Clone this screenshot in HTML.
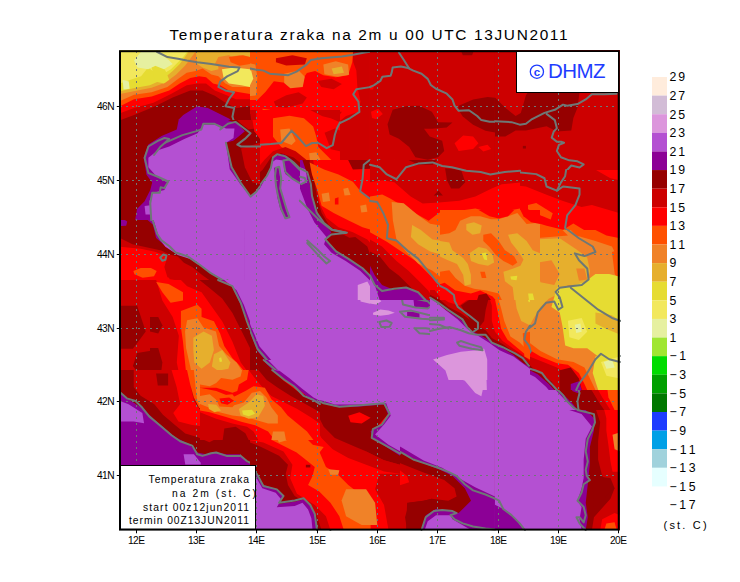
<!DOCTYPE html>
<html><head><meta charset="utf-8"><style>
html,body{margin:0;padding:0;background:#fff;}
body{width:740px;height:582px;position:relative;overflow:hidden;}
svg{position:absolute;left:0;top:0;font-family:"Liberation Sans",sans-serif;}
</style></head><body>
<svg width="740" height="582" viewBox="0 0 740 582">
<defs><clipPath id="ct00"><rect x="120.0" y="50.0" width="125.0" height="120.0"/></clipPath><mask id="mt00" maskUnits="userSpaceOnUse" x="0" y="0" width="740" height="582"><rect x="117.0" y="47.0" width="131.0" height="126.0" fill="#fff"/><rect x="245.0" y="50.0" width="125.0" height="120.0" fill="#000"/><rect x="370.0" y="50.0" width="125.0" height="120.0" fill="#000"/><rect x="495.0" y="50.0" width="125.0" height="120.0" fill="#000"/><rect x="120.0" y="170.0" width="125.0" height="120.0" fill="#000"/><rect x="245.0" y="170.0" width="125.0" height="120.0" fill="#000"/><rect x="370.0" y="170.0" width="125.0" height="120.0" fill="#000"/><rect x="495.0" y="170.0" width="125.0" height="120.0" fill="#000"/><rect x="120.0" y="290.0" width="125.0" height="120.0" fill="#000"/><rect x="245.0" y="290.0" width="125.0" height="120.0" fill="#000"/><rect x="370.0" y="290.0" width="125.0" height="120.0" fill="#000"/><rect x="495.0" y="290.0" width="125.0" height="120.0" fill="#000"/><rect x="120.0" y="410.0" width="125.0" height="120.0" fill="#000"/><rect x="245.0" y="410.0" width="125.0" height="120.0" fill="#000"/><rect x="370.0" y="410.0" width="125.0" height="120.0" fill="#000"/><rect x="495.0" y="410.0" width="125.0" height="120.0" fill="#000"/><rect x="120.0" y="280.0" width="250.0" height="250.0" fill="#000"/><rect x="230.0" y="360.0" width="140.0" height="140.0" fill="#000"/><rect x="150.0" y="280.0" width="100.0" height="120.0" fill="#000"/><rect x="240.0" y="110.0" width="100.0" height="120.0" fill="#000"/><rect x="120.0" y="370.0" width="120.0" height="100.0" fill="#000"/><rect x="120.0" y="50.0" width="130.0" height="90.0" fill="#000"/><rect x="300.0" y="160.0" width="120.0" height="140.0" fill="#000"/><rect x="370.0" y="160.0" width="150.0" height="140.0" fill="#000"/><rect x="480.0" y="230.0" width="140.0" height="160.0" fill="#000"/><rect x="250.0" y="400.0" width="150.0" height="130.0" fill="#000"/><rect x="120.0" y="120.0" width="140.0" height="100.0" fill="#000"/><rect x="430.0" y="290.0" width="100.0" height="90.0" fill="#000"/><rect x="440.0" y="210.0" width="100.0" height="90.0" fill="#000"/><rect x="200.0" y="370.0" width="120.0" height="70.0" fill="#000"/></mask><clipPath id="ct01"><rect x="245.0" y="50.0" width="125.0" height="120.0"/></clipPath><mask id="mt01" maskUnits="userSpaceOnUse" x="0" y="0" width="740" height="582"><rect x="242.0" y="47.0" width="131.0" height="126.0" fill="#fff"/><rect x="370.0" y="50.0" width="125.0" height="120.0" fill="#000"/><rect x="495.0" y="50.0" width="125.0" height="120.0" fill="#000"/><rect x="120.0" y="170.0" width="125.0" height="120.0" fill="#000"/><rect x="245.0" y="170.0" width="125.0" height="120.0" fill="#000"/><rect x="370.0" y="170.0" width="125.0" height="120.0" fill="#000"/><rect x="495.0" y="170.0" width="125.0" height="120.0" fill="#000"/><rect x="120.0" y="290.0" width="125.0" height="120.0" fill="#000"/><rect x="245.0" y="290.0" width="125.0" height="120.0" fill="#000"/><rect x="370.0" y="290.0" width="125.0" height="120.0" fill="#000"/><rect x="495.0" y="290.0" width="125.0" height="120.0" fill="#000"/><rect x="120.0" y="410.0" width="125.0" height="120.0" fill="#000"/><rect x="245.0" y="410.0" width="125.0" height="120.0" fill="#000"/><rect x="370.0" y="410.0" width="125.0" height="120.0" fill="#000"/><rect x="495.0" y="410.0" width="125.0" height="120.0" fill="#000"/><rect x="120.0" y="280.0" width="250.0" height="250.0" fill="#000"/><rect x="230.0" y="360.0" width="140.0" height="140.0" fill="#000"/><rect x="150.0" y="280.0" width="100.0" height="120.0" fill="#000"/><rect x="240.0" y="110.0" width="100.0" height="120.0" fill="#000"/><rect x="120.0" y="370.0" width="120.0" height="100.0" fill="#000"/><rect x="120.0" y="50.0" width="130.0" height="90.0" fill="#000"/><rect x="300.0" y="160.0" width="120.0" height="140.0" fill="#000"/><rect x="370.0" y="160.0" width="150.0" height="140.0" fill="#000"/><rect x="480.0" y="230.0" width="140.0" height="160.0" fill="#000"/><rect x="250.0" y="400.0" width="150.0" height="130.0" fill="#000"/><rect x="120.0" y="120.0" width="140.0" height="100.0" fill="#000"/><rect x="430.0" y="290.0" width="100.0" height="90.0" fill="#000"/><rect x="440.0" y="210.0" width="100.0" height="90.0" fill="#000"/><rect x="200.0" y="370.0" width="120.0" height="70.0" fill="#000"/></mask><clipPath id="ct02"><rect x="370.0" y="50.0" width="125.0" height="120.0"/></clipPath><mask id="mt02" maskUnits="userSpaceOnUse" x="0" y="0" width="740" height="582"><rect x="367.0" y="47.0" width="131.0" height="126.0" fill="#fff"/><rect x="495.0" y="50.0" width="125.0" height="120.0" fill="#000"/><rect x="120.0" y="170.0" width="125.0" height="120.0" fill="#000"/><rect x="245.0" y="170.0" width="125.0" height="120.0" fill="#000"/><rect x="370.0" y="170.0" width="125.0" height="120.0" fill="#000"/><rect x="495.0" y="170.0" width="125.0" height="120.0" fill="#000"/><rect x="120.0" y="290.0" width="125.0" height="120.0" fill="#000"/><rect x="245.0" y="290.0" width="125.0" height="120.0" fill="#000"/><rect x="370.0" y="290.0" width="125.0" height="120.0" fill="#000"/><rect x="495.0" y="290.0" width="125.0" height="120.0" fill="#000"/><rect x="120.0" y="410.0" width="125.0" height="120.0" fill="#000"/><rect x="245.0" y="410.0" width="125.0" height="120.0" fill="#000"/><rect x="370.0" y="410.0" width="125.0" height="120.0" fill="#000"/><rect x="495.0" y="410.0" width="125.0" height="120.0" fill="#000"/><rect x="120.0" y="280.0" width="250.0" height="250.0" fill="#000"/><rect x="230.0" y="360.0" width="140.0" height="140.0" fill="#000"/><rect x="150.0" y="280.0" width="100.0" height="120.0" fill="#000"/><rect x="240.0" y="110.0" width="100.0" height="120.0" fill="#000"/><rect x="120.0" y="370.0" width="120.0" height="100.0" fill="#000"/><rect x="120.0" y="50.0" width="130.0" height="90.0" fill="#000"/><rect x="300.0" y="160.0" width="120.0" height="140.0" fill="#000"/><rect x="370.0" y="160.0" width="150.0" height="140.0" fill="#000"/><rect x="480.0" y="230.0" width="140.0" height="160.0" fill="#000"/><rect x="250.0" y="400.0" width="150.0" height="130.0" fill="#000"/><rect x="120.0" y="120.0" width="140.0" height="100.0" fill="#000"/><rect x="430.0" y="290.0" width="100.0" height="90.0" fill="#000"/><rect x="440.0" y="210.0" width="100.0" height="90.0" fill="#000"/><rect x="200.0" y="370.0" width="120.0" height="70.0" fill="#000"/></mask><clipPath id="ct03"><rect x="495.0" y="50.0" width="125.0" height="120.0"/></clipPath><mask id="mt03" maskUnits="userSpaceOnUse" x="0" y="0" width="740" height="582"><rect x="492.0" y="47.0" width="131.0" height="126.0" fill="#fff"/><rect x="120.0" y="170.0" width="125.0" height="120.0" fill="#000"/><rect x="245.0" y="170.0" width="125.0" height="120.0" fill="#000"/><rect x="370.0" y="170.0" width="125.0" height="120.0" fill="#000"/><rect x="495.0" y="170.0" width="125.0" height="120.0" fill="#000"/><rect x="120.0" y="290.0" width="125.0" height="120.0" fill="#000"/><rect x="245.0" y="290.0" width="125.0" height="120.0" fill="#000"/><rect x="370.0" y="290.0" width="125.0" height="120.0" fill="#000"/><rect x="495.0" y="290.0" width="125.0" height="120.0" fill="#000"/><rect x="120.0" y="410.0" width="125.0" height="120.0" fill="#000"/><rect x="245.0" y="410.0" width="125.0" height="120.0" fill="#000"/><rect x="370.0" y="410.0" width="125.0" height="120.0" fill="#000"/><rect x="495.0" y="410.0" width="125.0" height="120.0" fill="#000"/><rect x="120.0" y="280.0" width="250.0" height="250.0" fill="#000"/><rect x="230.0" y="360.0" width="140.0" height="140.0" fill="#000"/><rect x="150.0" y="280.0" width="100.0" height="120.0" fill="#000"/><rect x="240.0" y="110.0" width="100.0" height="120.0" fill="#000"/><rect x="120.0" y="370.0" width="120.0" height="100.0" fill="#000"/><rect x="120.0" y="50.0" width="130.0" height="90.0" fill="#000"/><rect x="300.0" y="160.0" width="120.0" height="140.0" fill="#000"/><rect x="370.0" y="160.0" width="150.0" height="140.0" fill="#000"/><rect x="480.0" y="230.0" width="140.0" height="160.0" fill="#000"/><rect x="250.0" y="400.0" width="150.0" height="130.0" fill="#000"/><rect x="120.0" y="120.0" width="140.0" height="100.0" fill="#000"/><rect x="430.0" y="290.0" width="100.0" height="90.0" fill="#000"/><rect x="440.0" y="210.0" width="100.0" height="90.0" fill="#000"/><rect x="200.0" y="370.0" width="120.0" height="70.0" fill="#000"/></mask><clipPath id="ct10"><rect x="120.0" y="170.0" width="125.0" height="120.0"/></clipPath><mask id="mt10" maskUnits="userSpaceOnUse" x="0" y="0" width="740" height="582"><rect x="117.0" y="167.0" width="131.0" height="126.0" fill="#fff"/><rect x="245.0" y="170.0" width="125.0" height="120.0" fill="#000"/><rect x="370.0" y="170.0" width="125.0" height="120.0" fill="#000"/><rect x="495.0" y="170.0" width="125.0" height="120.0" fill="#000"/><rect x="120.0" y="290.0" width="125.0" height="120.0" fill="#000"/><rect x="245.0" y="290.0" width="125.0" height="120.0" fill="#000"/><rect x="370.0" y="290.0" width="125.0" height="120.0" fill="#000"/><rect x="495.0" y="290.0" width="125.0" height="120.0" fill="#000"/><rect x="120.0" y="410.0" width="125.0" height="120.0" fill="#000"/><rect x="245.0" y="410.0" width="125.0" height="120.0" fill="#000"/><rect x="370.0" y="410.0" width="125.0" height="120.0" fill="#000"/><rect x="495.0" y="410.0" width="125.0" height="120.0" fill="#000"/><rect x="120.0" y="280.0" width="250.0" height="250.0" fill="#000"/><rect x="230.0" y="360.0" width="140.0" height="140.0" fill="#000"/><rect x="150.0" y="280.0" width="100.0" height="120.0" fill="#000"/><rect x="240.0" y="110.0" width="100.0" height="120.0" fill="#000"/><rect x="120.0" y="370.0" width="120.0" height="100.0" fill="#000"/><rect x="120.0" y="50.0" width="130.0" height="90.0" fill="#000"/><rect x="300.0" y="160.0" width="120.0" height="140.0" fill="#000"/><rect x="370.0" y="160.0" width="150.0" height="140.0" fill="#000"/><rect x="480.0" y="230.0" width="140.0" height="160.0" fill="#000"/><rect x="250.0" y="400.0" width="150.0" height="130.0" fill="#000"/><rect x="120.0" y="120.0" width="140.0" height="100.0" fill="#000"/><rect x="430.0" y="290.0" width="100.0" height="90.0" fill="#000"/><rect x="440.0" y="210.0" width="100.0" height="90.0" fill="#000"/><rect x="200.0" y="370.0" width="120.0" height="70.0" fill="#000"/></mask><clipPath id="ct11"><rect x="245.0" y="170.0" width="125.0" height="120.0"/></clipPath><mask id="mt11" maskUnits="userSpaceOnUse" x="0" y="0" width="740" height="582"><rect x="242.0" y="167.0" width="131.0" height="126.0" fill="#fff"/><rect x="370.0" y="170.0" width="125.0" height="120.0" fill="#000"/><rect x="495.0" y="170.0" width="125.0" height="120.0" fill="#000"/><rect x="120.0" y="290.0" width="125.0" height="120.0" fill="#000"/><rect x="245.0" y="290.0" width="125.0" height="120.0" fill="#000"/><rect x="370.0" y="290.0" width="125.0" height="120.0" fill="#000"/><rect x="495.0" y="290.0" width="125.0" height="120.0" fill="#000"/><rect x="120.0" y="410.0" width="125.0" height="120.0" fill="#000"/><rect x="245.0" y="410.0" width="125.0" height="120.0" fill="#000"/><rect x="370.0" y="410.0" width="125.0" height="120.0" fill="#000"/><rect x="495.0" y="410.0" width="125.0" height="120.0" fill="#000"/><rect x="120.0" y="280.0" width="250.0" height="250.0" fill="#000"/><rect x="230.0" y="360.0" width="140.0" height="140.0" fill="#000"/><rect x="150.0" y="280.0" width="100.0" height="120.0" fill="#000"/><rect x="240.0" y="110.0" width="100.0" height="120.0" fill="#000"/><rect x="120.0" y="370.0" width="120.0" height="100.0" fill="#000"/><rect x="120.0" y="50.0" width="130.0" height="90.0" fill="#000"/><rect x="300.0" y="160.0" width="120.0" height="140.0" fill="#000"/><rect x="370.0" y="160.0" width="150.0" height="140.0" fill="#000"/><rect x="480.0" y="230.0" width="140.0" height="160.0" fill="#000"/><rect x="250.0" y="400.0" width="150.0" height="130.0" fill="#000"/><rect x="120.0" y="120.0" width="140.0" height="100.0" fill="#000"/><rect x="430.0" y="290.0" width="100.0" height="90.0" fill="#000"/><rect x="440.0" y="210.0" width="100.0" height="90.0" fill="#000"/><rect x="200.0" y="370.0" width="120.0" height="70.0" fill="#000"/></mask><clipPath id="ct12"><rect x="370.0" y="170.0" width="125.0" height="120.0"/></clipPath><mask id="mt12" maskUnits="userSpaceOnUse" x="0" y="0" width="740" height="582"><rect x="367.0" y="167.0" width="131.0" height="126.0" fill="#fff"/><rect x="495.0" y="170.0" width="125.0" height="120.0" fill="#000"/><rect x="120.0" y="290.0" width="125.0" height="120.0" fill="#000"/><rect x="245.0" y="290.0" width="125.0" height="120.0" fill="#000"/><rect x="370.0" y="290.0" width="125.0" height="120.0" fill="#000"/><rect x="495.0" y="290.0" width="125.0" height="120.0" fill="#000"/><rect x="120.0" y="410.0" width="125.0" height="120.0" fill="#000"/><rect x="245.0" y="410.0" width="125.0" height="120.0" fill="#000"/><rect x="370.0" y="410.0" width="125.0" height="120.0" fill="#000"/><rect x="495.0" y="410.0" width="125.0" height="120.0" fill="#000"/><rect x="120.0" y="280.0" width="250.0" height="250.0" fill="#000"/><rect x="230.0" y="360.0" width="140.0" height="140.0" fill="#000"/><rect x="150.0" y="280.0" width="100.0" height="120.0" fill="#000"/><rect x="240.0" y="110.0" width="100.0" height="120.0" fill="#000"/><rect x="120.0" y="370.0" width="120.0" height="100.0" fill="#000"/><rect x="120.0" y="50.0" width="130.0" height="90.0" fill="#000"/><rect x="300.0" y="160.0" width="120.0" height="140.0" fill="#000"/><rect x="370.0" y="160.0" width="150.0" height="140.0" fill="#000"/><rect x="480.0" y="230.0" width="140.0" height="160.0" fill="#000"/><rect x="250.0" y="400.0" width="150.0" height="130.0" fill="#000"/><rect x="120.0" y="120.0" width="140.0" height="100.0" fill="#000"/><rect x="430.0" y="290.0" width="100.0" height="90.0" fill="#000"/><rect x="440.0" y="210.0" width="100.0" height="90.0" fill="#000"/><rect x="200.0" y="370.0" width="120.0" height="70.0" fill="#000"/></mask><clipPath id="ct13"><rect x="495.0" y="170.0" width="125.0" height="120.0"/></clipPath><mask id="mt13" maskUnits="userSpaceOnUse" x="0" y="0" width="740" height="582"><rect x="492.0" y="167.0" width="131.0" height="126.0" fill="#fff"/><rect x="120.0" y="290.0" width="125.0" height="120.0" fill="#000"/><rect x="245.0" y="290.0" width="125.0" height="120.0" fill="#000"/><rect x="370.0" y="290.0" width="125.0" height="120.0" fill="#000"/><rect x="495.0" y="290.0" width="125.0" height="120.0" fill="#000"/><rect x="120.0" y="410.0" width="125.0" height="120.0" fill="#000"/><rect x="245.0" y="410.0" width="125.0" height="120.0" fill="#000"/><rect x="370.0" y="410.0" width="125.0" height="120.0" fill="#000"/><rect x="495.0" y="410.0" width="125.0" height="120.0" fill="#000"/><rect x="120.0" y="280.0" width="250.0" height="250.0" fill="#000"/><rect x="230.0" y="360.0" width="140.0" height="140.0" fill="#000"/><rect x="150.0" y="280.0" width="100.0" height="120.0" fill="#000"/><rect x="240.0" y="110.0" width="100.0" height="120.0" fill="#000"/><rect x="120.0" y="370.0" width="120.0" height="100.0" fill="#000"/><rect x="120.0" y="50.0" width="130.0" height="90.0" fill="#000"/><rect x="300.0" y="160.0" width="120.0" height="140.0" fill="#000"/><rect x="370.0" y="160.0" width="150.0" height="140.0" fill="#000"/><rect x="480.0" y="230.0" width="140.0" height="160.0" fill="#000"/><rect x="250.0" y="400.0" width="150.0" height="130.0" fill="#000"/><rect x="120.0" y="120.0" width="140.0" height="100.0" fill="#000"/><rect x="430.0" y="290.0" width="100.0" height="90.0" fill="#000"/><rect x="440.0" y="210.0" width="100.0" height="90.0" fill="#000"/><rect x="200.0" y="370.0" width="120.0" height="70.0" fill="#000"/></mask><clipPath id="ct20"><rect x="120.0" y="290.0" width="125.0" height="120.0"/></clipPath><mask id="mt20" maskUnits="userSpaceOnUse" x="0" y="0" width="740" height="582"><rect x="117.0" y="287.0" width="131.0" height="126.0" fill="#fff"/><rect x="245.0" y="290.0" width="125.0" height="120.0" fill="#000"/><rect x="370.0" y="290.0" width="125.0" height="120.0" fill="#000"/><rect x="495.0" y="290.0" width="125.0" height="120.0" fill="#000"/><rect x="120.0" y="410.0" width="125.0" height="120.0" fill="#000"/><rect x="245.0" y="410.0" width="125.0" height="120.0" fill="#000"/><rect x="370.0" y="410.0" width="125.0" height="120.0" fill="#000"/><rect x="495.0" y="410.0" width="125.0" height="120.0" fill="#000"/><rect x="120.0" y="280.0" width="250.0" height="250.0" fill="#000"/><rect x="230.0" y="360.0" width="140.0" height="140.0" fill="#000"/><rect x="150.0" y="280.0" width="100.0" height="120.0" fill="#000"/><rect x="240.0" y="110.0" width="100.0" height="120.0" fill="#000"/><rect x="120.0" y="370.0" width="120.0" height="100.0" fill="#000"/><rect x="120.0" y="50.0" width="130.0" height="90.0" fill="#000"/><rect x="300.0" y="160.0" width="120.0" height="140.0" fill="#000"/><rect x="370.0" y="160.0" width="150.0" height="140.0" fill="#000"/><rect x="480.0" y="230.0" width="140.0" height="160.0" fill="#000"/><rect x="250.0" y="400.0" width="150.0" height="130.0" fill="#000"/><rect x="120.0" y="120.0" width="140.0" height="100.0" fill="#000"/><rect x="430.0" y="290.0" width="100.0" height="90.0" fill="#000"/><rect x="440.0" y="210.0" width="100.0" height="90.0" fill="#000"/><rect x="200.0" y="370.0" width="120.0" height="70.0" fill="#000"/></mask><clipPath id="ct21"><rect x="245.0" y="290.0" width="125.0" height="120.0"/></clipPath><mask id="mt21" maskUnits="userSpaceOnUse" x="0" y="0" width="740" height="582"><rect x="242.0" y="287.0" width="131.0" height="126.0" fill="#fff"/><rect x="370.0" y="290.0" width="125.0" height="120.0" fill="#000"/><rect x="495.0" y="290.0" width="125.0" height="120.0" fill="#000"/><rect x="120.0" y="410.0" width="125.0" height="120.0" fill="#000"/><rect x="245.0" y="410.0" width="125.0" height="120.0" fill="#000"/><rect x="370.0" y="410.0" width="125.0" height="120.0" fill="#000"/><rect x="495.0" y="410.0" width="125.0" height="120.0" fill="#000"/><rect x="120.0" y="280.0" width="250.0" height="250.0" fill="#000"/><rect x="230.0" y="360.0" width="140.0" height="140.0" fill="#000"/><rect x="150.0" y="280.0" width="100.0" height="120.0" fill="#000"/><rect x="240.0" y="110.0" width="100.0" height="120.0" fill="#000"/><rect x="120.0" y="370.0" width="120.0" height="100.0" fill="#000"/><rect x="120.0" y="50.0" width="130.0" height="90.0" fill="#000"/><rect x="300.0" y="160.0" width="120.0" height="140.0" fill="#000"/><rect x="370.0" y="160.0" width="150.0" height="140.0" fill="#000"/><rect x="480.0" y="230.0" width="140.0" height="160.0" fill="#000"/><rect x="250.0" y="400.0" width="150.0" height="130.0" fill="#000"/><rect x="120.0" y="120.0" width="140.0" height="100.0" fill="#000"/><rect x="430.0" y="290.0" width="100.0" height="90.0" fill="#000"/><rect x="440.0" y="210.0" width="100.0" height="90.0" fill="#000"/><rect x="200.0" y="370.0" width="120.0" height="70.0" fill="#000"/></mask><clipPath id="ct22"><rect x="370.0" y="290.0" width="125.0" height="120.0"/></clipPath><mask id="mt22" maskUnits="userSpaceOnUse" x="0" y="0" width="740" height="582"><rect x="367.0" y="287.0" width="131.0" height="126.0" fill="#fff"/><rect x="495.0" y="290.0" width="125.0" height="120.0" fill="#000"/><rect x="120.0" y="410.0" width="125.0" height="120.0" fill="#000"/><rect x="245.0" y="410.0" width="125.0" height="120.0" fill="#000"/><rect x="370.0" y="410.0" width="125.0" height="120.0" fill="#000"/><rect x="495.0" y="410.0" width="125.0" height="120.0" fill="#000"/><rect x="120.0" y="280.0" width="250.0" height="250.0" fill="#000"/><rect x="230.0" y="360.0" width="140.0" height="140.0" fill="#000"/><rect x="150.0" y="280.0" width="100.0" height="120.0" fill="#000"/><rect x="240.0" y="110.0" width="100.0" height="120.0" fill="#000"/><rect x="120.0" y="370.0" width="120.0" height="100.0" fill="#000"/><rect x="120.0" y="50.0" width="130.0" height="90.0" fill="#000"/><rect x="300.0" y="160.0" width="120.0" height="140.0" fill="#000"/><rect x="370.0" y="160.0" width="150.0" height="140.0" fill="#000"/><rect x="480.0" y="230.0" width="140.0" height="160.0" fill="#000"/><rect x="250.0" y="400.0" width="150.0" height="130.0" fill="#000"/><rect x="120.0" y="120.0" width="140.0" height="100.0" fill="#000"/><rect x="430.0" y="290.0" width="100.0" height="90.0" fill="#000"/><rect x="440.0" y="210.0" width="100.0" height="90.0" fill="#000"/><rect x="200.0" y="370.0" width="120.0" height="70.0" fill="#000"/></mask><clipPath id="ct23"><rect x="495.0" y="290.0" width="125.0" height="120.0"/></clipPath><mask id="mt23" maskUnits="userSpaceOnUse" x="0" y="0" width="740" height="582"><rect x="492.0" y="287.0" width="131.0" height="126.0" fill="#fff"/><rect x="120.0" y="410.0" width="125.0" height="120.0" fill="#000"/><rect x="245.0" y="410.0" width="125.0" height="120.0" fill="#000"/><rect x="370.0" y="410.0" width="125.0" height="120.0" fill="#000"/><rect x="495.0" y="410.0" width="125.0" height="120.0" fill="#000"/><rect x="120.0" y="280.0" width="250.0" height="250.0" fill="#000"/><rect x="230.0" y="360.0" width="140.0" height="140.0" fill="#000"/><rect x="150.0" y="280.0" width="100.0" height="120.0" fill="#000"/><rect x="240.0" y="110.0" width="100.0" height="120.0" fill="#000"/><rect x="120.0" y="370.0" width="120.0" height="100.0" fill="#000"/><rect x="120.0" y="50.0" width="130.0" height="90.0" fill="#000"/><rect x="300.0" y="160.0" width="120.0" height="140.0" fill="#000"/><rect x="370.0" y="160.0" width="150.0" height="140.0" fill="#000"/><rect x="480.0" y="230.0" width="140.0" height="160.0" fill="#000"/><rect x="250.0" y="400.0" width="150.0" height="130.0" fill="#000"/><rect x="120.0" y="120.0" width="140.0" height="100.0" fill="#000"/><rect x="430.0" y="290.0" width="100.0" height="90.0" fill="#000"/><rect x="440.0" y="210.0" width="100.0" height="90.0" fill="#000"/><rect x="200.0" y="370.0" width="120.0" height="70.0" fill="#000"/></mask><clipPath id="ct30"><rect x="120.0" y="410.0" width="125.0" height="120.0"/></clipPath><mask id="mt30" maskUnits="userSpaceOnUse" x="0" y="0" width="740" height="582"><rect x="117.0" y="407.0" width="131.0" height="126.0" fill="#fff"/><rect x="245.0" y="410.0" width="125.0" height="120.0" fill="#000"/><rect x="370.0" y="410.0" width="125.0" height="120.0" fill="#000"/><rect x="495.0" y="410.0" width="125.0" height="120.0" fill="#000"/><rect x="120.0" y="280.0" width="250.0" height="250.0" fill="#000"/><rect x="230.0" y="360.0" width="140.0" height="140.0" fill="#000"/><rect x="150.0" y="280.0" width="100.0" height="120.0" fill="#000"/><rect x="240.0" y="110.0" width="100.0" height="120.0" fill="#000"/><rect x="120.0" y="370.0" width="120.0" height="100.0" fill="#000"/><rect x="120.0" y="50.0" width="130.0" height="90.0" fill="#000"/><rect x="300.0" y="160.0" width="120.0" height="140.0" fill="#000"/><rect x="370.0" y="160.0" width="150.0" height="140.0" fill="#000"/><rect x="480.0" y="230.0" width="140.0" height="160.0" fill="#000"/><rect x="250.0" y="400.0" width="150.0" height="130.0" fill="#000"/><rect x="120.0" y="120.0" width="140.0" height="100.0" fill="#000"/><rect x="430.0" y="290.0" width="100.0" height="90.0" fill="#000"/><rect x="440.0" y="210.0" width="100.0" height="90.0" fill="#000"/><rect x="200.0" y="370.0" width="120.0" height="70.0" fill="#000"/></mask><clipPath id="ct31"><rect x="245.0" y="410.0" width="125.0" height="120.0"/></clipPath><mask id="mt31" maskUnits="userSpaceOnUse" x="0" y="0" width="740" height="582"><rect x="242.0" y="407.0" width="131.0" height="126.0" fill="#fff"/><rect x="370.0" y="410.0" width="125.0" height="120.0" fill="#000"/><rect x="495.0" y="410.0" width="125.0" height="120.0" fill="#000"/><rect x="120.0" y="280.0" width="250.0" height="250.0" fill="#000"/><rect x="230.0" y="360.0" width="140.0" height="140.0" fill="#000"/><rect x="150.0" y="280.0" width="100.0" height="120.0" fill="#000"/><rect x="240.0" y="110.0" width="100.0" height="120.0" fill="#000"/><rect x="120.0" y="370.0" width="120.0" height="100.0" fill="#000"/><rect x="120.0" y="50.0" width="130.0" height="90.0" fill="#000"/><rect x="300.0" y="160.0" width="120.0" height="140.0" fill="#000"/><rect x="370.0" y="160.0" width="150.0" height="140.0" fill="#000"/><rect x="480.0" y="230.0" width="140.0" height="160.0" fill="#000"/><rect x="250.0" y="400.0" width="150.0" height="130.0" fill="#000"/><rect x="120.0" y="120.0" width="140.0" height="100.0" fill="#000"/><rect x="430.0" y="290.0" width="100.0" height="90.0" fill="#000"/><rect x="440.0" y="210.0" width="100.0" height="90.0" fill="#000"/><rect x="200.0" y="370.0" width="120.0" height="70.0" fill="#000"/></mask><clipPath id="ct32"><rect x="370.0" y="410.0" width="125.0" height="120.0"/></clipPath><mask id="mt32" maskUnits="userSpaceOnUse" x="0" y="0" width="740" height="582"><rect x="367.0" y="407.0" width="131.0" height="126.0" fill="#fff"/><rect x="495.0" y="410.0" width="125.0" height="120.0" fill="#000"/><rect x="120.0" y="280.0" width="250.0" height="250.0" fill="#000"/><rect x="230.0" y="360.0" width="140.0" height="140.0" fill="#000"/><rect x="150.0" y="280.0" width="100.0" height="120.0" fill="#000"/><rect x="240.0" y="110.0" width="100.0" height="120.0" fill="#000"/><rect x="120.0" y="370.0" width="120.0" height="100.0" fill="#000"/><rect x="120.0" y="50.0" width="130.0" height="90.0" fill="#000"/><rect x="300.0" y="160.0" width="120.0" height="140.0" fill="#000"/><rect x="370.0" y="160.0" width="150.0" height="140.0" fill="#000"/><rect x="480.0" y="230.0" width="140.0" height="160.0" fill="#000"/><rect x="250.0" y="400.0" width="150.0" height="130.0" fill="#000"/><rect x="120.0" y="120.0" width="140.0" height="100.0" fill="#000"/><rect x="430.0" y="290.0" width="100.0" height="90.0" fill="#000"/><rect x="440.0" y="210.0" width="100.0" height="90.0" fill="#000"/><rect x="200.0" y="370.0" width="120.0" height="70.0" fill="#000"/></mask><clipPath id="ct33"><rect x="495.0" y="410.0" width="125.0" height="120.0"/></clipPath><mask id="mt33" maskUnits="userSpaceOnUse" x="0" y="0" width="740" height="582"><rect x="492.0" y="407.0" width="131.0" height="126.0" fill="#fff"/><rect x="120.0" y="280.0" width="250.0" height="250.0" fill="#000"/><rect x="230.0" y="360.0" width="140.0" height="140.0" fill="#000"/><rect x="150.0" y="280.0" width="100.0" height="120.0" fill="#000"/><rect x="240.0" y="110.0" width="100.0" height="120.0" fill="#000"/><rect x="120.0" y="370.0" width="120.0" height="100.0" fill="#000"/><rect x="120.0" y="50.0" width="130.0" height="90.0" fill="#000"/><rect x="300.0" y="160.0" width="120.0" height="140.0" fill="#000"/><rect x="370.0" y="160.0" width="150.0" height="140.0" fill="#000"/><rect x="480.0" y="230.0" width="140.0" height="160.0" fill="#000"/><rect x="250.0" y="400.0" width="150.0" height="130.0" fill="#000"/><rect x="120.0" y="120.0" width="140.0" height="100.0" fill="#000"/><rect x="430.0" y="290.0" width="100.0" height="90.0" fill="#000"/><rect x="440.0" y="210.0" width="100.0" height="90.0" fill="#000"/><rect x="200.0" y="370.0" width="120.0" height="70.0" fill="#000"/></mask><clipPath id="ct40"><rect x="120.0" y="280.0" width="250.0" height="250.0"/></clipPath><mask id="mt40" maskUnits="userSpaceOnUse" x="0" y="0" width="740" height="582"><rect x="117.0" y="277.0" width="256.0" height="256.0" fill="#fff"/><rect x="230.0" y="360.0" width="140.0" height="140.0" fill="#000"/><rect x="150.0" y="280.0" width="100.0" height="120.0" fill="#000"/><rect x="240.0" y="110.0" width="100.0" height="120.0" fill="#000"/><rect x="120.0" y="370.0" width="120.0" height="100.0" fill="#000"/><rect x="120.0" y="50.0" width="130.0" height="90.0" fill="#000"/><rect x="300.0" y="160.0" width="120.0" height="140.0" fill="#000"/><rect x="370.0" y="160.0" width="150.0" height="140.0" fill="#000"/><rect x="480.0" y="230.0" width="140.0" height="160.0" fill="#000"/><rect x="250.0" y="400.0" width="150.0" height="130.0" fill="#000"/><rect x="120.0" y="120.0" width="140.0" height="100.0" fill="#000"/><rect x="430.0" y="290.0" width="100.0" height="90.0" fill="#000"/><rect x="440.0" y="210.0" width="100.0" height="90.0" fill="#000"/><rect x="200.0" y="370.0" width="120.0" height="70.0" fill="#000"/></mask><clipPath id="ct41"><rect x="230.0" y="360.0" width="140.0" height="140.0"/></clipPath><mask id="mt41" maskUnits="userSpaceOnUse" x="0" y="0" width="740" height="582"><rect x="227.0" y="357.0" width="146.0" height="146.0" fill="#fff"/><rect x="150.0" y="280.0" width="100.0" height="120.0" fill="#000"/><rect x="240.0" y="110.0" width="100.0" height="120.0" fill="#000"/><rect x="120.0" y="370.0" width="120.0" height="100.0" fill="#000"/><rect x="120.0" y="50.0" width="130.0" height="90.0" fill="#000"/><rect x="300.0" y="160.0" width="120.0" height="140.0" fill="#000"/><rect x="370.0" y="160.0" width="150.0" height="140.0" fill="#000"/><rect x="480.0" y="230.0" width="140.0" height="160.0" fill="#000"/><rect x="250.0" y="400.0" width="150.0" height="130.0" fill="#000"/><rect x="120.0" y="120.0" width="140.0" height="100.0" fill="#000"/><rect x="430.0" y="290.0" width="100.0" height="90.0" fill="#000"/><rect x="440.0" y="210.0" width="100.0" height="90.0" fill="#000"/><rect x="200.0" y="370.0" width="120.0" height="70.0" fill="#000"/></mask><clipPath id="ct42"><rect x="150.0" y="280.0" width="100.0" height="120.0"/></clipPath><mask id="mt42" maskUnits="userSpaceOnUse" x="0" y="0" width="740" height="582"><rect x="147.0" y="277.0" width="106.0" height="126.0" fill="#fff"/><rect x="240.0" y="110.0" width="100.0" height="120.0" fill="#000"/><rect x="120.0" y="370.0" width="120.0" height="100.0" fill="#000"/><rect x="120.0" y="50.0" width="130.0" height="90.0" fill="#000"/><rect x="300.0" y="160.0" width="120.0" height="140.0" fill="#000"/><rect x="370.0" y="160.0" width="150.0" height="140.0" fill="#000"/><rect x="480.0" y="230.0" width="140.0" height="160.0" fill="#000"/><rect x="250.0" y="400.0" width="150.0" height="130.0" fill="#000"/><rect x="120.0" y="120.0" width="140.0" height="100.0" fill="#000"/><rect x="430.0" y="290.0" width="100.0" height="90.0" fill="#000"/><rect x="440.0" y="210.0" width="100.0" height="90.0" fill="#000"/><rect x="200.0" y="370.0" width="120.0" height="70.0" fill="#000"/></mask><clipPath id="ct43"><rect x="240.0" y="110.0" width="100.0" height="120.0"/></clipPath><mask id="mt43" maskUnits="userSpaceOnUse" x="0" y="0" width="740" height="582"><rect x="237.0" y="107.0" width="106.0" height="126.0" fill="#fff"/><rect x="120.0" y="370.0" width="120.0" height="100.0" fill="#000"/><rect x="120.0" y="50.0" width="130.0" height="90.0" fill="#000"/><rect x="300.0" y="160.0" width="120.0" height="140.0" fill="#000"/><rect x="370.0" y="160.0" width="150.0" height="140.0" fill="#000"/><rect x="480.0" y="230.0" width="140.0" height="160.0" fill="#000"/><rect x="250.0" y="400.0" width="150.0" height="130.0" fill="#000"/><rect x="120.0" y="120.0" width="140.0" height="100.0" fill="#000"/><rect x="430.0" y="290.0" width="100.0" height="90.0" fill="#000"/><rect x="440.0" y="210.0" width="100.0" height="90.0" fill="#000"/><rect x="200.0" y="370.0" width="120.0" height="70.0" fill="#000"/></mask><clipPath id="ct44"><rect x="120.0" y="370.0" width="120.0" height="100.0"/></clipPath><mask id="mt44" maskUnits="userSpaceOnUse" x="0" y="0" width="740" height="582"><rect x="117.0" y="367.0" width="126.0" height="106.0" fill="#fff"/><rect x="120.0" y="50.0" width="130.0" height="90.0" fill="#000"/><rect x="300.0" y="160.0" width="120.0" height="140.0" fill="#000"/><rect x="370.0" y="160.0" width="150.0" height="140.0" fill="#000"/><rect x="480.0" y="230.0" width="140.0" height="160.0" fill="#000"/><rect x="250.0" y="400.0" width="150.0" height="130.0" fill="#000"/><rect x="120.0" y="120.0" width="140.0" height="100.0" fill="#000"/><rect x="430.0" y="290.0" width="100.0" height="90.0" fill="#000"/><rect x="440.0" y="210.0" width="100.0" height="90.0" fill="#000"/><rect x="200.0" y="370.0" width="120.0" height="70.0" fill="#000"/></mask><clipPath id="ct45"><rect x="120.0" y="50.0" width="130.0" height="90.0"/></clipPath><mask id="mt45" maskUnits="userSpaceOnUse" x="0" y="0" width="740" height="582"><rect x="117.0" y="47.0" width="136.0" height="96.0" fill="#fff"/><rect x="300.0" y="160.0" width="120.0" height="140.0" fill="#000"/><rect x="370.0" y="160.0" width="150.0" height="140.0" fill="#000"/><rect x="480.0" y="230.0" width="140.0" height="160.0" fill="#000"/><rect x="250.0" y="400.0" width="150.0" height="130.0" fill="#000"/><rect x="120.0" y="120.0" width="140.0" height="100.0" fill="#000"/><rect x="430.0" y="290.0" width="100.0" height="90.0" fill="#000"/><rect x="440.0" y="210.0" width="100.0" height="90.0" fill="#000"/><rect x="200.0" y="370.0" width="120.0" height="70.0" fill="#000"/></mask><clipPath id="ct46"><rect x="300.0" y="160.0" width="120.0" height="140.0"/></clipPath><mask id="mt46" maskUnits="userSpaceOnUse" x="0" y="0" width="740" height="582"><rect x="297.0" y="157.0" width="126.0" height="146.0" fill="#fff"/><rect x="370.0" y="160.0" width="150.0" height="140.0" fill="#000"/><rect x="480.0" y="230.0" width="140.0" height="160.0" fill="#000"/><rect x="250.0" y="400.0" width="150.0" height="130.0" fill="#000"/><rect x="120.0" y="120.0" width="140.0" height="100.0" fill="#000"/><rect x="430.0" y="290.0" width="100.0" height="90.0" fill="#000"/><rect x="440.0" y="210.0" width="100.0" height="90.0" fill="#000"/><rect x="200.0" y="370.0" width="120.0" height="70.0" fill="#000"/></mask><clipPath id="ct47"><rect x="370.0" y="160.0" width="150.0" height="140.0"/></clipPath><mask id="mt47" maskUnits="userSpaceOnUse" x="0" y="0" width="740" height="582"><rect x="367.0" y="157.0" width="156.0" height="146.0" fill="#fff"/><rect x="480.0" y="230.0" width="140.0" height="160.0" fill="#000"/><rect x="250.0" y="400.0" width="150.0" height="130.0" fill="#000"/><rect x="120.0" y="120.0" width="140.0" height="100.0" fill="#000"/><rect x="430.0" y="290.0" width="100.0" height="90.0" fill="#000"/><rect x="440.0" y="210.0" width="100.0" height="90.0" fill="#000"/><rect x="200.0" y="370.0" width="120.0" height="70.0" fill="#000"/></mask><clipPath id="ct48"><rect x="480.0" y="230.0" width="140.0" height="160.0"/></clipPath><mask id="mt48" maskUnits="userSpaceOnUse" x="0" y="0" width="740" height="582"><rect x="477.0" y="227.0" width="146.0" height="166.0" fill="#fff"/><rect x="250.0" y="400.0" width="150.0" height="130.0" fill="#000"/><rect x="120.0" y="120.0" width="140.0" height="100.0" fill="#000"/><rect x="430.0" y="290.0" width="100.0" height="90.0" fill="#000"/><rect x="440.0" y="210.0" width="100.0" height="90.0" fill="#000"/><rect x="200.0" y="370.0" width="120.0" height="70.0" fill="#000"/></mask><clipPath id="ct49"><rect x="250.0" y="400.0" width="150.0" height="130.0"/></clipPath><mask id="mt49" maskUnits="userSpaceOnUse" x="0" y="0" width="740" height="582"><rect x="247.0" y="397.0" width="156.0" height="136.0" fill="#fff"/><rect x="120.0" y="120.0" width="140.0" height="100.0" fill="#000"/><rect x="430.0" y="290.0" width="100.0" height="90.0" fill="#000"/><rect x="440.0" y="210.0" width="100.0" height="90.0" fill="#000"/><rect x="200.0" y="370.0" width="120.0" height="70.0" fill="#000"/></mask><clipPath id="ct50"><rect x="120.0" y="120.0" width="140.0" height="100.0"/></clipPath><mask id="mt50" maskUnits="userSpaceOnUse" x="0" y="0" width="740" height="582"><rect x="117.0" y="117.0" width="146.0" height="106.0" fill="#fff"/><rect x="430.0" y="290.0" width="100.0" height="90.0" fill="#000"/><rect x="440.0" y="210.0" width="100.0" height="90.0" fill="#000"/><rect x="200.0" y="370.0" width="120.0" height="70.0" fill="#000"/></mask><clipPath id="ct51"><rect x="430.0" y="290.0" width="100.0" height="90.0"/></clipPath><mask id="mt51" maskUnits="userSpaceOnUse" x="0" y="0" width="740" height="582"><rect x="427.0" y="287.0" width="106.0" height="96.0" fill="#fff"/><rect x="440.0" y="210.0" width="100.0" height="90.0" fill="#000"/><rect x="200.0" y="370.0" width="120.0" height="70.0" fill="#000"/></mask><clipPath id="ct52"><rect x="440.0" y="210.0" width="100.0" height="90.0"/></clipPath><mask id="mt52" maskUnits="userSpaceOnUse" x="0" y="0" width="740" height="582"><rect x="437.0" y="207.0" width="106.0" height="96.0" fill="#fff"/><rect x="200.0" y="370.0" width="120.0" height="70.0" fill="#000"/></mask><clipPath id="ct53"><rect x="200.0" y="370.0" width="120.0" height="70.0"/></clipPath><mask id="mt53" maskUnits="userSpaceOnUse" x="0" y="0" width="740" height="582"><rect x="197.0" y="367.0" width="126.0" height="76.0" fill="#fff"/></mask></defs>
<rect x="120" y="51" width="499" height="478.5" fill="#960000"/>
<g clip-path="url(#ct00)"><g transform="translate(120.0 50.0) scale(0.20619)"><polygon fill="#cd0000" points="0,0 606,0 606,300 560,262 480,218 420,194 370,196 300,226 250,252 160,290 80,320 0,346"/><polygon fill="#cd0000" points="560,420 606,400 606,582 570,582 552,500"/><polygon fill="#ff0000" points="0,0 606,0 606,240 530,215 470,185 420,166 370,170 300,200 220,240 150,270 80,298 0,322"/><polygon fill="#ff5000" points="0,0 606,0 606,160 560,150 500,140 450,112 400,97 350,110 300,140 240,176 170,206 80,226 0,252"/><polygon fill="#f08228" points="0,0 606,0 606,40 560,20 500,85 440,72 390,72 340,92 290,126 230,166 170,192 80,202 0,228"/><polygon fill="#e6af2d" points="0,0 380,0 360,25 330,62 285,110 230,150 170,176 80,186 0,206"/><polygon fill="#e6af2d" points="380,0 606,0 606,30 560,22 540,60 500,85 440,72 390,72 385,30"/><polygon fill="#f08228" points="390,12 460,12 455,60 400,70"/><polygon fill="#ff5000" points="560,25 606,20 606,75 570,70"/><polygon fill="#e6dc32" points="0,0 380,0 355,30 325,65 280,115 230,145 170,168 80,176 0,196"/><polygon fill="#f2e85c" points="0,0 370,0 340,40 300,80 260,110 230,130 190,120 150,110 130,150 80,165 0,180"/><polygon fill="#e6f0a0" points="90,12 180,12 250,40 280,70 240,95 170,80 120,90"/><polygon fill="#e6f0a0" points="10,140 50,150 45,185 10,180"/><polygon fill="#e6dc32" points="140,80 200,75 235,120 240,175 200,185 160,170"/><polygon fill="#f2e85c" points="490,100 540,90 606,95 606,150 560,150 510,140"/><polygon fill="#8c0096" points="105,582 112,500 145,455 200,425 248,402 268,372 262,350 290,330 330,310 378,280 420,300 470,332 520,345 560,362 575,420 545,445 530,582"/><polygon fill="#b450d2" points="140,582 130,520 160,470 210,442 270,432 330,402 390,380 410,360 460,355 520,372 555,385 565,420 530,450 520,500 540,582"/></g></g><g clip-path="url(#ct01)"><g transform="translate(245.0 50.0) scale(0.20619)"><polygon fill="#ff0000" points="0,0 606,0 606,582 0,582"/><polygon fill="#cd0000" points="520,0 606,0 606,582 490,582 430,530 380,470 400,410 440,360 490,320 550,300 560,250 545,180 540,100 525,60"/><polygon fill="#ff5000" points="0,0 525,0 520,60 500,122 440,132 380,122 340,102 300,112 280,142 220,162 140,152 100,202 60,242 0,242"/><polygon fill="#cd0000" points="150,40 230,25 300,40 290,70 200,75 150,60"/><polygon fill="#f08228" points="0,60 50,70 60,130 55,220 0,225"/><polygon fill="#f08228" points="190,115 260,100 290,130 280,180 220,185 190,160"/><polygon fill="#f08228" points="380,70 440,55 500,70 505,120 450,130 385,118"/><polygon fill="#e6af2d" points="420,90 470,80 480,110 430,118"/><polygon fill="#f2e85c" points="0,95 30,100 40,140 25,170 0,170"/><polygon fill="#e6f0a0" points="0,110 18,115 22,140 10,155 0,150"/><polygon fill="#cd0000" points="350,150 420,140 470,165 430,190 370,180"/><polygon fill="#cd0000" points="140,250 200,220 260,205 300,230 280,260 200,280 150,275"/><polygon fill="#cd0000" points="330,320 400,300 470,300 440,340 360,340"/><polygon fill="#cd0000" points="0,280 50,300 60,470 0,470"/><polygon fill="#960000" points="0,310 30,320 30,420 0,420"/><polygon fill="#ff5000" points="70,300 130,330 160,320 250,320 320,350 350,380 350,450 300,470 200,460 100,470 60,440"/><polygon fill="#ff5000" points="85,285 120,290 115,312 88,310"/><polygon fill="#ff5000" points="180,470 300,470 360,480 400,520 430,582 250,582 220,520"/><polygon fill="#f08228" points="140,330 250,325 320,355 350,400 350,450 300,460 260,440 230,400 200,450 140,440 130,380"/><polygon fill="#f08228" points="300,480 360,490 390,540 380,570 320,560"/><polygon fill="#e6af2d" points="175,400 220,385 245,440 200,460"/><polygon fill="#e6af2d" points="320,500 355,510 360,540 325,535"/><polygon fill="#cd0000" points="0,470 60,470 100,480 120,582 0,582"/><polygon fill="#960000" points="60,500 110,490 120,582 70,582"/><polygon fill="#8c0096" points="110,582 130,520 160,500 200,510 240,560 250,582"/><polygon fill="#b450d2" points="140,582 150,540 180,530 210,570 215,582"/><polygon fill="#dc96dc" points="155,550 185,545 195,575 160,580"/></g></g><g clip-path="url(#ct02)"><g transform="translate(370.0 50.0) scale(0.20619)"><polygon fill="#cd0000" points="0,0 606,0 606,582 0,582"/><polygon fill="#960000" points="110,290 180,272 240,270 300,300 330,350 400,352 372,376 300,382 262,382 290,420 350,440 360,490 330,520 280,532 220,520 190,470 140,430 95,410 85,360"/><polygon fill="#960000" points="430,270 500,240 570,228 606,232 606,400 560,392 500,362 450,322 430,292"/><polygon fill="#960000" points="440,0 505,0 495,25 450,25"/><polygon fill="#ff0000" points="5,300 40,285 62,310 30,336 10,330"/><polygon fill="#ff0000" points="410,452 452,415 500,420 526,452 500,480 430,490"/><polygon fill="#ff0000" points="525,470 570,460 588,480 550,492"/><polygon fill="#ff0000" points="40,575 80,552 120,532 136,570 120,582 50,582"/><polygon fill="#ff0000" points="0,170 20,170 15,192 0,192"/></g></g><g clip-path="url(#ct03)"><g transform="translate(495.0 50.0) scale(0.20619)"><polygon fill="#cd0000" points="0,0 606,0 606,582 0,582"/><polygon fill="#960000" points="0,230 50,280 100,320 125,305 150,220 160,205 410,205 400,280 380,330 370,390 300,395 250,370 150,390 100,390 50,420 0,420"/><polygon fill="#960000" points="135,465 150,465 150,478 135,478"/></g></g><g clip-path="url(#ct10)"><g transform="translate(120.0 170.0) scale(0.20619)"><polygon fill="#960000" points="0,0 606,0 606,582 0,582"/><polygon fill="#cd0000" points="0,330 60,360 150,380 200,390 240,410 280,420 310,450 350,470 400,510 470,560 500,582 0,582"/><polygon fill="#ff0000" points="0,372 100,382 170,396 230,420 215,470 230,520 300,545 350,582 0,582"/><polygon fill="#cd0000" points="225,455 300,450 330,500 320,540 240,530"/><polygon fill="#ff5000" points="65,490 100,475 150,475 178,490 165,515 110,522 70,505"/><polygon fill="#ff5000" points="180,545 240,550 265,582 185,582"/><polygon fill="#8c0096" points="150,0 540,0 606,60 606,582 560,582 520,540 450,500 390,460 330,420 270,400 210,360 175,330 160,265 120,230 75,205 100,160 130,110 145,50"/><polygon fill="#b450d2" points="170,0 540,0 606,70 606,582 570,582 530,550 460,510 400,470 340,432 280,412 220,372 190,332 175,282 160,232 150,182 150,122 170,102 200,82 230,62 230,42 180,22"/><polygon fill="#b450d2" points="122,170 150,175 152,212 125,208"/><polygon fill="#cd0000" points="540,0 606,0 606,50 570,20"/><polygon fill="#8c0096" points="5,230 35,250 30,270 5,272"/></g></g><g clip-path="url(#ct11)"><g transform="translate(245.0 170.0) scale(0.20619)"><polygon fill="#b450d2" points="0,0 606,0 606,582 0,582"/><polygon fill="#8c0096" points="180,0 606,0 606,520 570,500 500,470 440,440 400,392 395,362 420,342 380,302 340,262 290,212 260,162 255,122 290,102 300,72 260,72 220,42 190,25"/><polygon fill="#960000" points="300,0 606,0 606,500 540,470 470,420 440,380 480,320 430,290 370,240 330,190 320,130 310,60 290,20"/><polygon fill="#cd0000" points="320,0 606,0 606,400 560,340 500,310 450,290 400,250 350,200 330,130 320,50"/><polygon fill="#ff0000" points="330,0 606,0 606,320 520,290 460,270 410,230 360,180 345,120 340,50"/><polygon fill="#ff5000" points="360,80 400,50 450,40 520,40 560,80 590,130 606,150 606,270 540,265 480,258 430,230 390,195 360,160 350,120"/><polygon fill="#f08228" points="365,118 400,110 410,150 380,156"/><polygon fill="#f08228" points="475,95 500,90 510,120 485,125"/><polygon fill="#f08228" points="560,175 590,180 590,205 565,200"/><polygon fill="#ff0000" points="440,140 455,145 452,162 438,158"/><polygon fill="#cd0000" points="560,0 606,0 606,140 580,120 565,70"/><polygon fill="#cd0000" points="500,280 606,280 606,340 540,315"/><polygon fill="#960000" points="440,330 510,310 560,320 606,330 606,450 540,440 470,400 440,370"/><polygon fill="#960000" points="0,0 110,0 100,50 60,80 0,80"/><polygon fill="#cd0000" points="0,0 100,0 95,30 50,45 0,50"/><polygon fill="#ff0000" points="20,0 70,0 60,20 25,20"/><polygon fill="#8c0096" points="0,80 60,80 100,50 110,0 130,0 120,40 80,90 40,122 0,100"/><polygon fill="#8c0096" points="150,80 185,60 195,130 210,185 195,200 160,200 150,140"/><polygon fill="#8c0096" points="190,0 260,0 270,30 240,60 200,40"/><polygon fill="#dc96dc" points="545,550 590,540 606,560 606,582 545,582"/></g></g><g clip-path="url(#ct12)"><g transform="translate(370.0 170.0) scale(0.20619)"><polygon fill="#cd0000" points="0,0 606,0 606,582 0,582"/><polygon fill="#ff0000" points="0,0 70,0 90,40 40,60 0,60"/><polygon fill="#ff0000" points="0,60 60,80 150,110 250,150 350,170 450,150 520,130 606,110 606,582 0,582"/><polygon fill="#960000" points="350,0 470,0 460,60 440,92 400,96 370,60"/><polygon fill="#960000" points="315,122 335,100 355,125"/><polygon fill="#960000" points="500,0 606,0 606,30 520,22"/><polygon fill="#cd0000" points="0,300 50,330 100,370 130,420 160,480 210,520 290,550 330,582 0,582"/><polygon fill="#960000" points="0,380 40,390 60,440 50,520 30,582 0,582"/><polygon fill="#960000" points="50,520 100,510 200,520 280,540 300,582 30,582"/><polygon fill="#ff5000" points="0,130 60,115 110,110 210,170 260,220 290,245 330,210 430,195 520,185 606,170 606,582 360,582 340,560 290,510 240,470 200,440 150,400 110,360 60,330 0,290"/><polygon fill="#f08228" points="100,150 160,155 210,200 250,240 300,270 350,260 420,240 470,225 540,230 606,260 606,300 560,320 540,360 500,380 606,400 606,582 400,582 360,540 300,480 240,420 200,380 130,330 110,250"/><polygon fill="#ff5000" points="545,310 606,300 606,390 560,370"/><polygon fill="#e6af2d" points="200,260 240,280 300,340 370,350 420,380 460,400 520,380 570,380 600,420 550,440 500,440 480,470 500,530 480,550 460,520 440,460 400,430 330,410 240,380 190,350"/><polygon fill="#e6af2d" points="470,270 510,255 540,270 530,300 490,310 465,290"/><polygon fill="#e6dc32" points="535,400 560,395 570,420 555,440"/><polygon fill="#ff5000" points="520,480 570,490 580,520 540,530"/><polygon fill="#8c0096" points="0,490 20,520 30,560 20,582 0,582"/><polygon fill="#b450d2" points="0,520 10,540 15,570 0,575"/></g></g><g clip-path="url(#ct13)"><g transform="translate(495.0 170.0) scale(0.20619)"><polygon fill="#cd0000" points="0,0 606,0 606,582 0,582"/><polygon fill="#ff0000" points="0,80 60,70 150,80 250,120 330,150 420,180 470,170 540,190 606,210 606,582 0,582"/><polygon fill="#ff0000" points="490,0 606,0 606,50 560,40"/><polygon fill="#ff5000" points="0,240 60,200 100,200 150,240 250,270 330,290 380,260 430,290 470,310 540,300 606,290 606,582 0,582"/><polygon fill="#ff5000" points="160,170 200,160 280,210 270,240 220,220 160,190"/><polygon fill="#f08228" points="0,290 100,290 200,300 300,320 400,360 440,340 500,330 606,320 606,582 0,582"/><polygon fill="#e6af2d" points="40,320 100,310 160,360 220,400 260,360 330,360 380,400 440,420 520,420 606,420 606,582 30,582 50,480 60,400"/><polygon fill="#ff5000" points="0,380 50,400 100,440 90,470 40,450 0,440"/><polygon fill="#f08228" points="0,420 40,430 45,582 0,582"/><polygon fill="#f08228" points="230,450 270,440 330,520 300,560 240,560"/><polygon fill="#f08228" points="390,490 420,480 430,530 400,535"/><polygon fill="#ff5000" points="570,410 606,400 606,480 580,470"/><polygon fill="#e6dc32" points="70,520 110,510 115,535 80,540"/><polygon fill="#e6dc32" points="470,520 550,500 606,520 606,582 500,582 480,560"/><polygon fill="#e6dc32" points="310,560 370,560 360,582 300,582"/></g></g><g clip-path="url(#ct20)"><g transform="translate(120.0 290.0) scale(0.20619)"><polygon fill="#cd0000" points="0,0 606,0 606,582 0,582"/><polygon fill="#960000" points="0,0 40,0 40,60 30,120 0,160"/><polygon fill="#960000" points="50,110 140,100 190,140 210,190 180,215 140,180 100,170 60,160"/><polygon fill="#960000" points="80,300 150,280 200,320 220,360 240,420 220,460 150,470 90,450 70,400"/><polygon fill="#960000" points="0,300 50,320 70,400 60,470 30,520 0,530"/><polygon fill="#960000" points="60,470 150,480 200,460 260,480 290,540 300,582 50,582"/><polygon fill="#cd0000" points="90,400 140,390 170,430 130,460 85,450"/><polygon fill="#ff0000" points="160,0 370,0 430,60 480,120 540,190 606,240 606,582 330,582 300,520 280,470 270,380 255,300 265,240 230,160 190,80"/><polygon fill="#cd0000" points="380,0 606,0 606,230 540,180 480,110 420,50"/><polygon fill="#960000" points="400,0 540,0 606,60 606,180 560,150 500,90 440,40"/><polygon fill="#ff5000" points="200,0 300,0 300,40 240,60 210,40"/><polygon fill="#ff5000" points="300,100 390,80 440,130 480,210 530,280 600,330 606,340 606,582 370,582 340,520 330,420 310,330 300,230 320,150"/><polygon fill="#f08228" points="330,140 380,150 430,200 480,250 530,300 560,350 540,400 520,430 570,470 560,500 480,520 420,500 400,470 350,440 330,350 320,250"/><polygon fill="#e6af2d" points="360,320 400,230 430,210 460,260 470,320 460,360 440,390 380,380 360,360"/><polygon fill="#e6af2d" points="460,330 490,300 520,340 540,380 520,400 470,380"/><polygon fill="#cd0000" points="470,530 510,510 550,530 520,560 480,555"/><polygon fill="#8c0096" points="0,390 20,400 30,470 60,520 120,560 150,582 0,582"/><polygon fill="#b450d2" points="0,480 30,530 80,570 100,582 0,582"/><polygon fill="#8c0096" points="550,0 606,0 606,70 580,50"/><polygon fill="#b450d2" points="570,0 606,0 606,40"/></g></g><g clip-path="url(#ct21)"><g transform="translate(245.0 290.0) scale(0.20619)"><polygon fill="#b450d2" points="0,0 606,0 606,582 0,582"/><polygon fill="#dc96dc" points="545,0 606,0 606,65 580,60 550,30"/><polygon fill="#8c0096" points="0,110 20,140 40,220 70,290 130,360 200,420 260,470 300,510 360,540 440,560 500,540 550,535 606,540 606,582 0,582"/><polygon fill="#960000" points="0,140 30,200 60,290 120,370 190,430 250,480 290,520 350,555 420,575 460,582 0,582"/><polygon fill="#cd0000" points="0,250 40,300 80,380 130,420 190,460 240,500 290,540 330,570 350,582 0,582"/><polygon fill="#ff0000" points="0,350 40,400 90,460 130,500 180,540 230,570 250,582 0,582"/><polygon fill="#ff5000" points="0,420 20,430 40,480 80,470 120,480 140,530 190,582 0,582"/><polygon fill="#f08228" points="30,500 60,490 110,500 130,540 160,582 30,582"/><polygon fill="#e6af2d" points="50,520 90,510 100,582 50,582"/><polygon fill="#e6af2d" points="0,380 15,380 15,520 0,520"/><polygon fill="#8c0096" points="0,20 10,20 10,40 0,40"/><polygon fill="#960000" points="350,562 450,576 500,566 606,572 606,582 350,582"/></g></g><g clip-path="url(#ct22)"><g transform="translate(370.0 290.0) scale(0.20619)"><polygon fill="#b450d2" points="0,0 606,0 606,582 0,582"/><polygon fill="#dc96dc" points="0,10 20,20 55,55 30,70 0,65"/><polygon fill="#dc96dc" points="15,110 50,95 90,100 120,110 90,120 50,125 15,120"/><polygon fill="#dc96dc" points="300,340 380,320 450,295 540,285 570,320 575,430 550,470 540,515 510,500 460,440 380,410 365,370"/><polygon fill="#dc96dc" points="330,255 360,255 355,265 335,265"/><polygon fill="#8c0096" points="170,0 606,0 606,280 540,250 470,220 420,180 380,150 330,110 270,60 210,30"/><polygon fill="#960000" points="240,0 606,0 606,260 560,235 520,210 460,170 400,120 340,70 290,30"/><polygon fill="#cd0000" points="280,0 606,0 606,250 540,200 490,160 430,110 360,60 310,20"/><polygon fill="#ff0000" points="300,0 606,0 606,240 540,195 480,150 420,100 360,50"/><polygon fill="#cd0000" points="470,60 560,30 606,40 606,200 560,180 510,160 470,120"/><polygon fill="#960000" points="460,100 520,90 550,120 550,170 510,190 470,160"/><polygon fill="#ff5000" points="330,0 606,0 606,30 560,25 480,30 400,25 360,25"/><polygon fill="#f08228" points="430,0 500,0 490,15 440,15"/><polygon fill="#f08228" points="340,0 370,0 365,20 345,20"/><polygon fill="#8c0096" points="210,40 280,50 300,75 280,90 215,82"/><polygon fill="#8c0096" points="180,105 240,108 240,135 180,128"/><polygon fill="#8c0096" points="0,548 50,550 85,575 85,582 0,582"/><polygon fill="#960000" points="0,560 50,565 70,582 0,582"/></g></g><g clip-path="url(#ct23)"><g transform="translate(495.0 290.0) scale(0.20619)"><polygon fill="#b450d2" points="0,0 606,0 606,582 0,582"/><polygon fill="#8c0096" points="0,0 606,0 606,582 395,582 350,545 290,480 210,430 150,395 90,345 0,310"/><polygon fill="#960000" points="0,0 606,0 606,582 410,582 365,540 300,475 220,425 155,385 95,335 0,290"/><polygon fill="#cd0000" points="0,0 606,0 606,582 530,582 500,540 470,490 430,440 400,400 350,370 270,360 200,350 130,320 60,280 0,260"/><polygon fill="#960000" points="320,380 380,390 430,440 470,490 500,540 520,582 400,582 340,500 300,460 320,420"/><polygon fill="#8c0096" points="370,455 400,445 425,480 400,500 375,490"/><polygon fill="#ff0000" points="0,0 606,0 606,460 560,480 520,450 480,430 440,380 400,350 330,340 260,340 200,330 140,310 80,275 0,240"/><polygon fill="#ff0000" points="480,450 606,440 606,582 560,582 520,520"/><polygon fill="#ff5000" points="0,0 606,0 606,420 560,450 500,420 450,360 420,330 350,320 290,320 230,300 170,270 130,220 80,160 30,110 0,90"/><polygon fill="#ff5000" points="540,440 606,420 606,582 580,582 550,520"/><polygon fill="#f08228" points="40,0 606,0 606,380 560,420 500,390 460,340 430,290 390,270 320,250 250,240 180,210 120,170 80,130 50,80"/><polygon fill="#e6af2d" points="100,0 606,0 606,360 560,390 500,370 460,300 420,250 350,220 300,230 250,200 190,180 150,130 120,60"/><polygon fill="#e6dc32" points="300,0 606,0 606,150 560,160 520,200 480,230 450,270 400,280 350,260 340,200 330,140 300,100 280,60"/><polygon fill="#e6dc32" points="170,30 210,20 240,70 200,80"/><polygon fill="#e6af2d" points="480,140 540,130 580,170 520,200 480,180"/><polygon fill="#f2e85c" points="370,150 420,140 440,190 410,230 370,210"/><polygon fill="#e6f0a0" points="390,165 420,158 415,200 395,205"/><polygon fill="#e6dc32" points="470,330 540,300 590,310 606,330 606,400 560,420 500,400"/><polygon fill="#f2e85c" points="500,330 550,320 570,360 520,370"/><polygon fill="#e6f0a0" points="515,340 545,335 555,355 525,360"/></g></g><g clip-path="url(#ct30)"><g transform="translate(120.0 410.0) scale(0.20619)"><polygon fill="#8c0096" points="0,0 606,0 606,582 0,582"/><polygon fill="#b450d2" points="0,0 120,0 115,60 60,60 0,55"/><polygon fill="#b450d2" points="300,210 340,215 390,250 390,265 300,265"/><polygon fill="#960000" points="130,0 606,0 606,240 560,220 490,225 430,210 380,215 350,190 300,170 260,150 200,90 150,30"/><polygon fill="#cd0000" points="260,0 606,0 606,220 560,200 490,190 420,190 370,170 330,140 290,90 260,40"/><polygon fill="#ff0000" points="280,0 520,0 500,40 440,60 430,110 380,120 330,100 290,60"/><polygon fill="#cd0000" points="320,50 400,40 420,80 400,105 340,100"/><polygon fill="#ff0000" points="385,88 430,85 430,110 390,112"/><polygon fill="#960000" points="500,80 560,70 606,90 606,180 560,160 510,130"/><polygon fill="#ff5000" points="420,0 606,0 606,40 560,60 480,40"/><polygon fill="#e6af2d" points="440,0 590,0 560,25 480,20"/><polygon fill="#e6dc32" points="480,0 540,0 520,12 490,12"/></g></g><g clip-path="url(#ct31)"><g transform="translate(245.0 410.0) scale(0.20619)"><polygon fill="#cd0000" points="0,0 606,0 606,582 0,582"/><polygon fill="#ff0000" points="0,60 100,60 200,30 300,0 370,0 400,50 450,90 500,130 560,190 606,250 606,582 380,582 370,500 320,420 240,340 230,250 200,200 120,160 30,120 0,110"/><polygon fill="#960000" points="370,0 606,0 606,240 560,190 520,140 450,90 400,40"/><polygon fill="#ff0000" points="500,30 560,15 600,40 560,60 510,55"/><polygon fill="#960000" points="0,100 80,140 140,180 200,200 240,240 220,300 250,340 300,370 340,420 360,460 380,520 370,582 0,582"/><polygon fill="#cd0000" points="300,380 370,400 420,460 430,582 370,582 360,500"/><polygon fill="#ff5000" points="380,200 380,260 430,250 500,300 560,330 606,330 606,582 430,582 420,480 380,400 300,360 280,320 330,290 340,240 310,160 350,150"/><polygon fill="#ff5000" points="0,0 200,0 180,40 120,60 60,80 0,90"/><polygon fill="#f08228" points="0,0 170,0 150,40 80,60 0,60"/><polygon fill="#e6af2d" points="0,0 60,0 50,40 20,45 0,35"/><polygon fill="#e6dc32" points="0,0 45,0 35,25 0,25"/><polygon fill="#ff5000" points="130,80 220,75 290,90 300,150 250,170 180,165 135,130"/><polygon fill="#f08228" points="140,110 180,105 210,140 190,160 150,150"/><polygon fill="#f08228" points="460,400 520,380 580,370 606,390 606,582 490,582 480,480"/><polygon fill="#f08228" points="410,290 450,285 460,310 420,315"/><polygon fill="#8c0096" points="0,200 40,250 60,330 100,370 150,385 170,420 160,450 210,440 270,425 330,460 360,520 360,582 0,582"/><polygon fill="#b450d2" points="0,240 30,280 60,350 100,385 150,400 165,425 160,460 220,455 280,450 320,480 340,530 330,582 0,582"/></g></g><g clip-path="url(#ct32)"><g transform="translate(370.0 410.0) scale(0.20619)"><polygon fill="#b450d2" points="0,0 606,0 606,582 0,582"/><polygon fill="#8c0096" points="0,0 95,0 95,40 30,90 60,140 150,180 260,245 350,280 430,330 510,375 606,420 606,582 490,582 400,530 390,510 320,510 280,540 265,582 0,582"/><polygon fill="#960000" points="0,0 80,0 85,30 10,90 30,150 130,195 250,255 340,290 400,320 460,380 490,440 430,500 380,490 320,480 270,510 250,582 0,582"/><polygon fill="#cd0000" points="0,200 80,220 150,260 250,300 360,340 410,380 420,420 380,440 300,430 260,440 190,450 170,520 180,582 0,582"/><polygon fill="#960000" points="180,450 260,440 300,430 300,470 260,520 250,582 175,582"/><polygon fill="#ff0000" points="0,260 60,260 130,280 180,320 190,350 130,370 80,380 100,470 90,582 0,582"/><polygon fill="#ff5000" points="0,350 20,350 60,420 70,480 80,582 0,582"/><polygon fill="#f08228" points="0,460 30,470 50,520 50,582 0,582"/><polygon fill="#cd0000" points="0,0 50,0 40,30 0,50"/></g></g><g clip-path="url(#ct33)"><g transform="translate(495.0 410.0) scale(0.20619)"><polygon fill="#b450d2" points="0,0 606,0 606,582 0,582"/><polygon fill="#8c0096" points="0,460 40,480 100,530 140,582 0,582"/><polygon fill="#8c0096" points="360,0 606,0 606,582 420,582 410,530 420,470 400,440 420,380 430,330 430,240 440,140 470,80 420,20"/><polygon fill="#960000" points="440,0 606,0 606,582 440,582 450,520 440,450 450,360 460,260 460,180 480,100 480,40"/><polygon fill="#cd0000" points="490,0 606,0 606,582 470,582 480,520 560,430 580,380 520,320 500,240 500,150 510,60"/><polygon fill="#ff0000" points="530,0 606,0 606,300 570,300 560,250 550,170 540,100 540,40"/><polygon fill="#f08228" points="570,120 600,110 606,200 580,190"/><polygon fill="#960000" points="470,320 560,330 580,380 540,420 480,470"/><polygon fill="#ff0000" points="520,530 580,500 606,510 606,582 510,582"/><polygon fill="#ff5000" points="540,550 580,545 590,582 530,582"/></g></g><g clip-path="url(#ct40)"><g transform="translate(120.0 280.0) scale(0.42955)"><polygon fill="#960000" points="0,0 582,0 582,582 0,582"/><polygon fill="#cd0000" points="0,0 250,0 280,60 320,160 380,230 470,290 582,300 582,582 495,582 450,520 400,500 340,470 300,410 200,390 120,350 60,290 0,240"/><polygon fill="#960000" points="0,60 40,60 60,120 30,160 0,160"/><polygon fill="#960000" points="40,170 100,160 120,200 100,250 60,240 30,200"/><polygon fill="#960000" points="240,0 290,80 330,170 400,230 480,275 582,280 582,330 520,320 450,300 380,260 320,210 270,140 240,60 220,0"/><polygon fill="#960000" points="490,310 582,300 582,430 540,400 500,360"/><polygon fill="#ff0000" points="80,0 200,0 220,40 240,110 260,170 300,220 350,260 420,300 470,330 500,380 540,420 582,440 582,582 520,582 480,510 420,470 350,430 280,380 220,360 160,320 120,280 110,210 120,130 100,60"/><polygon fill="#960000" points="0,240 60,280 120,330 200,370 280,380 320,410 340,460 380,490 450,500 500,540 520,582 0,582"/><polygon fill="#ff5000" points="90,10 130,10 150,50 190,70 220,120 240,170 280,230 330,260 400,300 440,330 470,370 510,420 550,450 582,470 582,582 530,582 500,520 450,470 400,440 350,400 300,360 250,340 200,320 150,280 140,220 150,160 140,100 110,50"/><polygon fill="#f08228" points="150,80 185,90 210,130 230,180 260,220 300,250 340,270 380,300 420,340 450,380 500,420 540,460 570,500 582,520 582,582 540,582 510,520 470,480 420,450 370,410 330,380 290,350 240,330 190,300 165,260 155,200 155,140"/><polygon fill="#e6af2d" points="175,110 200,120 215,160 235,200 270,230 310,260 340,290 330,320 290,320 250,300 210,280 180,250 170,190 165,140"/><polygon fill="#e6af2d" points="360,330 400,340 420,380 390,390 355,370"/><polygon fill="#e6af2d" points="480,430 530,450 560,500 520,510 480,470"/><polygon fill="#e6dc32" points="215,170 250,190 255,215 225,215"/><polygon fill="#e6dc32" points="280,290 315,295 320,320 285,320"/><polygon fill="#960000" points="230,270 260,265 265,290 235,295"/><polygon fill="#8c0096" points="250,0 582,0 582,290 540,300 490,295 440,270 400,240 350,200 320,165 300,115 280,65 265,25"/><polygon fill="#b450d2" points="262,0 582,0 582,285 540,290 490,285 445,260 405,230 355,190 325,155 305,108 287,58 270,18"/><polygon fill="#dc96dc" points="555,10 582,5 582,55 560,50"/><polygon fill="#8c0096" points="0,250 40,276 80,323 130,363 180,388 220,398 250,393 280,395 305,405 330,440 340,480 370,505 420,505 450,525 480,560 495,582 0,582"/><polygon fill="#b450d2" points="0,295 40,298 50,332 0,335"/><polygon fill="#b450d2" points="145,402 210,404 230,428 150,428"/><polygon fill="#b450d2" points="310,520 360,510 420,515 450,540 470,582 310,582"/></g></g><g clip-path="url(#ct41)"><g transform="translate(230.0 360.0) scale(0.24055)"><polygon fill="#cd0000" points="0,0 582,0 582,582 0,582"/><polygon fill="#960000" points="100,0 150,0 200,50 280,110 350,170 400,190 582,185 582,260 540,250 480,240 430,260 420,230 370,215 320,190 250,150 180,110 130,60 110,20"/><polygon fill="#960000" points="430,250 500,230 582,240 582,460 530,440 470,380 440,320"/><polygon fill="#960000" points="0,270 60,290 120,330 180,360 230,390 260,430 250,500 230,560 200,582 0,582"/><polygon fill="#960000" points="60,0 100,0 120,40 120,100 80,130 40,120 60,60"/><polygon fill="#ff0000" points="0,130 50,140 100,110 180,130 240,200 300,230 350,250 400,300 440,340 470,400 520,450 582,480 582,582 350,582 310,520 280,470 250,420 200,370 120,330 60,290 0,270"/><polygon fill="#ff0000" points="490,225 540,215 570,240 540,265 500,260"/><polygon fill="#ff5000" points="0,150 60,160 110,130 170,140 220,210 290,250 330,270 360,320 400,360 430,410 470,450 520,480 582,510 582,582 380,582 350,540 330,490 300,440 270,390 220,360 180,330 120,300 60,280 0,250"/><polygon fill="#ff5000" points="0,0 60,0 70,50 40,100 0,110"/><polygon fill="#f08228" points="0,170 60,180 110,150 160,150 210,200 230,260 250,300 290,290 320,330 300,360 270,370 230,330 200,290 140,280 80,270 0,250"/><polygon fill="#ff0000" points="240,290 265,285 270,320 245,320"/><polygon fill="#f08228" points="320,380 350,360 380,400 410,440 450,480 500,520 560,540 582,550 582,582 420,582 390,540 360,480 330,430"/><polygon fill="#f08228" points="0,10 40,20 50,60 20,90 0,90"/><polygon fill="#e6af2d" points="40,195 110,150 150,170 180,220 130,250 60,240"/><polygon fill="#e6dc32" points="50,210 90,200 110,220 80,235"/><polygon fill="#e6af2d" points="180,300 220,300 235,340 190,340"/><polygon fill="#e6af2d" points="410,450 450,455 455,480 420,480"/><polygon fill="#8c0096" points="140,0 582,0 582,190 500,200 400,203 350,183 280,123 200,63 150,15"/><polygon fill="#b450d2" points="158,0 582,0 582,178 500,185 400,188 355,168 285,108 205,48"/><polygon fill="#8c0096" points="0,395 40,392 70,425 110,440 120,500 170,520 220,545 260,582 0,582"/></g></g><g clip-path="url(#ct42)"><g transform="translate(150.0 280.0) scale(0.20619)"><polygon fill="#ff0000" points="0,0 485,0 485,582 0,582"/><polygon fill="#cd0000" points="0,0 30,0 60,100 110,180 140,270 130,400 150,500 160,582 0,582"/><polygon fill="#960000" points="0,180 40,180 60,220 40,260 0,250"/><polygon fill="#960000" points="0,330 40,330 60,400 50,480 0,480"/><polygon fill="#960000" points="60,500 130,510 130,582 40,582"/><polygon fill="#cd0000" points="150,0 330,0 360,60 400,120 440,200 470,280 485,320 485,460 440,400 400,300 350,200 300,130 250,60 180,30"/><polygon fill="#960000" points="240,0 330,0 400,30 450,130 485,230 485,330 450,260 400,160 350,90 290,40"/><polygon fill="#8c0096" points="340,0 485,0 485,230 470,180 430,100 395,20"/><polygon fill="#b450d2" points="360,0 485,0 485,200 455,120 420,50"/><polygon fill="#ff5000" points="30,10 90,20 160,60 160,100 100,110 60,60"/><polygon fill="#ff5000" points="150,150 230,120 250,140 250,180 310,200 340,260 360,320 400,380 430,410 470,460 485,500 485,582 170,582 180,500 170,400 160,300 150,230"/><polygon fill="#f08228" points="180,195 230,185 260,230 320,250 335,320 370,360 420,400 445,440 430,480 370,470 330,490 280,510 240,540 210,500 195,420 175,330 170,250"/><polygon fill="#e6af2d" points="210,280 260,250 300,270 310,340 290,400 250,430 215,400 210,340"/><polygon fill="#e6af2d" points="310,360 350,340 390,400 380,430 330,440 300,420"/><polygon fill="#e6dc32" points="335,380 345,375 350,395 338,398"/></g></g><g clip-path="url(#ct43)"><g transform="translate(240.0 110.0) scale(0.20619)"><polygon fill="#ff0000" points="0,0 485,0 485,582 0,582"/><polygon fill="#cd0000" points="340,0 485,0 485,60 440,40 400,30"/><polygon fill="#cd0000" points="410,110 460,90 485,100 485,200 440,190"/><polygon fill="#cd0000" points="0,0 80,0 75,120 70,180 90,250 80,320 0,320"/><polygon fill="#960000" points="0,30 50,20 60,90 30,140 0,150"/><polygon fill="#960000" points="0,190 60,200 70,280 30,320 0,320"/><polygon fill="#ff5000" points="160,40 240,28 310,40 355,80 370,130 380,180 420,220 460,260 485,280 485,490 440,470 400,430 380,380 360,320 320,270 260,210 200,180 160,130"/><polygon fill="#f08228" points="195,95 240,90 270,150 250,170 200,150"/><polygon fill="#f08228" points="335,210 370,205 390,240 370,260 340,250"/><polygon fill="#f08228" points="390,410 430,400 435,440 400,445"/><polygon fill="#ff0000" points="460,430 475,440 470,455 455,450"/><polygon fill="#cd0000" points="0,280 70,300 120,240 160,200 220,180 270,200 320,240 370,300 390,360 400,420 440,480 485,510 485,582 0,582"/><polygon fill="#960000" points="0,320 50,340 110,290 150,230 200,210 260,230 310,270 350,320 365,380 380,440 420,500 485,545 485,582 0,582"/><polygon fill="#8c0096" points="0,350 40,400 60,415 100,365 150,285 165,225 210,215 250,240 300,285 340,340 350,400 370,460 400,510 450,550 485,575 485,582 0,582"/><polygon fill="#b450d2" points="0,365 40,410 60,425 100,375 140,300 160,250 175,240 210,245 215,300 250,310 290,330 300,380 320,430 340,480 380,530 420,570 440,582 0,582"/><polygon fill="#8c0096" points="165,280 190,275 195,340 200,400 215,450 235,520 225,530 195,480 180,420 175,350"/><polygon fill="#8c0096" points="210,250 250,245 300,290 330,340 300,355 260,340 220,310"/><polygon fill="#8c0096" points="290,430 340,470 385,520 440,570 400,582 350,550 300,490"/></g></g><g clip-path="url(#ct44)"><g transform="translate(120.0 370.0) scale(0.17182)"><polygon fill="#960000" points="0,0 698,0 698,582 0,582"/><polygon fill="#cd0000" points="80,0 400,0 420,120 450,220 520,280 600,290 698,290 698,340 620,360 560,400 520,420 450,390 380,370 320,320 250,260 200,200 120,150 80,100"/><polygon fill="#960000" points="210,20 280,20 280,90 220,90"/><polygon fill="#960000" points="610,340 680,330 698,350 698,470 650,450 620,400"/><polygon fill="#ff0000" points="300,0 420,0 410,90 430,180 480,250 560,280 698,280 698,320 600,340 500,330 420,320 340,300 310,250 350,200 330,100"/><polygon fill="#ff0000" points="470,330 510,345 500,370 470,365"/><polygon fill="#ff5000" points="390,0 698,0 698,270 600,270 520,250 460,220 430,160 410,90"/><polygon fill="#f08228" points="430,0 698,0 698,250 620,260 540,260 480,230 450,180 440,100"/><polygon fill="#ff5000" points="580,30 698,40 698,110 640,110 590,80"/><polygon fill="#ff5000" points="560,150 660,140 698,170 680,220 600,230 560,200"/><polygon fill="#ff0000" points="580,170 640,160 660,190 620,210 585,200"/><polygon fill="#e6af2d" points="510,200 560,210 580,250 530,250"/><polygon fill="#e6af2d" points="640,220 698,210 698,250 650,250"/><polygon fill="#8c0096" points="0,130 30,160 80,190 140,230 200,290 260,340 320,390 400,430 450,480 500,490 560,480 620,490 698,490 698,582 0,582"/><polygon fill="#b450d2" points="0,180 50,200 130,250 140,310 80,300 0,300"/><polygon fill="#b450d2" points="370,490 430,490 470,540 470,550 380,550"/></g></g><g clip-path="url(#ct45)"><g transform="translate(120.0 50.0) scale(0.17568)"><polygon fill="#960000" points="0,0 740,0 740,512 0,512"/><polygon fill="#cd0000" points="0,400 80,370 200,320 300,270 400,230 470,230 540,260 600,300 660,330 740,320 740,0 0,0"/><polygon fill="#ff0000" points="0,360 80,330 190,300 290,250 380,200 440,190 490,190 540,230 590,250 660,280 740,280 740,0 0,0"/><polygon fill="#ff5000" points="0,320 80,280 180,265 280,230 340,190 400,160 450,150 490,155 530,190 570,200 620,230 740,250 740,0 0,0"/><polygon fill="#f08228" points="0,290 80,255 180,240 270,210 330,165 380,130 430,120 470,105 520,140 560,150 600,190 640,210 740,210 740,0 0,0"/><polygon fill="#e6af2d" points="0,250 100,230 180,215 260,185 320,140 370,90 400,50 430,10 430,0 0,0"/><polygon fill="#e6af2d" points="430,0 740,0 740,40 680,30 620,40 560,90 560,110 520,120 470,100 440,80"/><polygon fill="#e6dc32" points="0,235 90,215 170,200 240,170 300,120 340,80 370,40 390,10 390,0 0,0"/><polygon fill="#f2e85c" points="0,0 390,0 360,40 320,80 290,110 240,140 200,130 160,100 120,150 60,170 0,190"/><polygon fill="#e6dc32" points="180,100 230,80 260,120 280,170 250,190 200,180"/><polygon fill="#e6f0a0" points="120,10 220,10 280,60 300,80 250,110 200,90 160,110 100,100 80,60"/><polygon fill="#e6f0a0" points="15,170 50,180 55,220 20,225"/><polygon fill="#f08228" points="560,40 620,30 740,90 740,110 650,100 580,110 540,80"/><polygon fill="#f2e85c" points="580,110 650,100 740,110 740,210 690,200 620,190 590,160"/><polygon fill="#ff5000" points="620,40 700,30 740,40 740,80 680,90 630,70"/><polygon fill="#8c0096" points="200,512 260,470 320,430 330,400 360,370 440,320 500,330 560,360 620,390 660,420 700,480 740,512"/><polygon fill="#b450d2" points="320,512 380,470 440,440 470,420 540,420 600,440 650,460 680,512"/></g></g><g clip-path="url(#ct46)"><g transform="translate(300.0 160.0) scale(0.24055)"><polygon fill="#b450d2" points="0,0 499,0 499,582 0,582"/><polygon fill="#8c0096" points="0,0 499,0 499,582 330,560 290,500 250,460 190,420 130,385 100,350 110,320 60,260 30,200 0,120"/><polygon fill="#b450d2" points="0,30 25,40 30,95 0,100"/><polygon fill="#960000" points="10,0 499,0 499,582 380,540 330,545 300,490 260,450 200,410 150,380 110,330 130,300 100,265 70,220 50,150 40,100 25,45"/><polygon fill="#cd0000" points="40,0 499,0 499,540 440,520 400,500 340,460 310,430 280,400 240,360 200,320 160,300 120,270 90,220 70,150 60,90 45,40"/><polygon fill="#ff0000" points="55,0 499,0 499,510 440,480 380,440 330,390 280,330 220,300 160,280 110,240 80,180 70,100 60,40"/><polygon fill="#960000" points="150,330 230,320 280,360 300,420 320,470 330,520 300,500 270,450 220,410 160,380"/><polygon fill="#960000" points="200,0 330,0 320,35 220,40"/><polygon fill="#ff5000" points="40,10 100,40 160,60 220,90 260,140 300,170 330,180 360,210 400,160 499,150 499,440 460,400 420,370 380,330 330,300 260,280 200,250 140,220 90,190 70,120 50,60"/><polygon fill="#f08228" points="380,170 430,170 499,180 499,380 460,360 420,320 390,270 370,220"/><polygon fill="#e6af2d" points="460,260 499,250 499,340 460,360 450,320"/><polygon fill="#f08228" points="90,140 120,135 125,170 95,175"/><polygon fill="#f08228" points="180,120 200,115 210,145 185,148"/><polygon fill="#f08228" points="250,190 275,185 280,215 255,218"/><polygon fill="#ff0000" points="145,160 160,155 160,185 145,185"/><polygon fill="#dc96dc" points="240,520 280,505 300,540 320,582 240,582"/></g></g><g clip-path="url(#ct47)"><g transform="translate(370.0 160.0) scale(0.24055)"><polygon fill="#ff0000" points="0,0 624,0 624,582 0,582"/><polygon fill="#cd0000" points="0,0 624,0 624,93 548,101 506,118 438,152 371,169 287,177 219,181 169,152 101,93 51,84 0,93"/><polygon fill="#960000" points="160,0 280,0 260,20 200,20"/><polygon fill="#960000" points="312,34 379,42 396,93 371,118 337,118 320,84"/><polygon fill="#960000" points="265,148 285,127 303,148"/><polygon fill="#ff5000" points="0,152 51,143 84,160 169,211 244,253 287,219 371,211 438,202 506,219 573,211 624,202 624,582 350,582 300,530 240,470 190,420 130,380 70,340 0,300"/><polygon fill="#f08228" points="90,175 140,180 200,230 250,265 310,275 370,250 440,235 500,240 560,260 624,280 624,582 460,582 410,540 360,520 310,500 260,460 200,430 150,380 110,330 95,250"/><polygon fill="#ff5000" points="470,300 520,310 540,360 610,400 600,440 540,430 480,360"/><polygon fill="#ff5000" points="600,300 624,290 624,360 600,340"/><polygon fill="#e6af2d" points="175,270 210,290 260,330 330,340 400,370 440,400 500,410 540,400 600,420 624,430 624,582 560,582 540,520 520,470 480,440 440,460 410,500 400,470 380,430 320,400 250,380 200,350 170,320"/><polygon fill="#e6af2d" points="400,270 450,260 470,290 440,315 405,305"/><polygon fill="#e6af2d" points="570,310 624,300 624,380 590,360"/><polygon fill="#e6dc32" points="455,380 490,385 485,420 460,415"/><polygon fill="#e6dc32" points="580,480 615,485 610,505 585,505"/><polygon fill="#cd0000" points="0,330 50,360 110,420 160,460 200,500 240,540 270,582 0,582"/><polygon fill="#960000" points="0,380 40,400 80,450 120,480 160,520 200,560 220,582 0,582"/><polygon fill="#8c0096" points="0,440 20,480 50,520 100,540 150,530 200,550 240,582 0,582"/><polygon fill="#b450d2" points="0,480 20,520 40,582 0,582"/></g></g><g clip-path="url(#ct48)"><g transform="translate(480.0 230.0) scale(0.27491)"><polygon fill="#f08228" points="0,0 509,0 509,582 0,582"/><polygon fill="#ff5000" points="0,0 300,0 320,20 200,30 130,40 80,30 0,30"/><polygon fill="#ff5000" points="0,30 50,20 90,60 130,100 120,130 60,110 20,80 0,70"/><polygon fill="#ff5000" points="330,0 509,0 509,120 480,60 420,40 350,20"/><polygon fill="#ff0000" points="420,0 509,0 509,30 460,20"/><polygon fill="#ff5000" points="480,80 509,70 509,190 490,160"/><polygon fill="#e6af2d" points="80,40 290,30 350,70 390,100 400,150 390,200 320,200 290,230 250,250 220,280 190,330 170,370 150,380 120,330 90,270 70,210 60,140 20,170 0,150 0,100 40,90"/><polygon fill="#f08228" points="200,120 260,110 290,160 270,200 220,190"/><polygon fill="#f08228" points="350,140 380,140 390,180 360,185"/><polygon fill="#e6dc32" points="0,80 20,70 30,100 0,110"/><polygon fill="#e6dc32" points="110,170 135,165 135,185 110,185"/><polygon fill="#e6dc32" points="280,210 330,205 380,190 420,160 470,160 509,170 509,440 470,470 430,460 390,430 340,430 310,420 300,350 290,300 260,280"/><polygon fill="#e6af2d" points="420,300 480,310 509,330 509,380 460,360 420,340"/><polygon fill="#f2e85c" points="320,330 370,320 390,370 360,400 325,390"/><polygon fill="#e6f0a0" points="345,345 365,340 370,370 350,375"/><polygon fill="#e6dc32" points="420,460 470,450 509,440 509,582 430,582 410,520"/><polygon fill="#f2e85c" points="440,480 509,460 509,540 460,530"/><polygon fill="#e6f0a0" points="450,480 480,470 490,500 460,505"/><polygon fill="#ff5000" points="0,210 40,230 80,290 110,340 150,390 180,410 220,440 280,470 340,480 380,500 400,540 420,582 0,582"/><polygon fill="#ff0000" points="0,230 30,240 60,300 90,350 130,400 170,430 220,460 280,485 320,490 360,520 380,560 390,582 0,582"/><polygon fill="#cd0000" points="0,240 40,270 60,340 100,390 140,430 180,460 230,480 280,500 310,520 340,560 350,582 0,582"/><polygon fill="#960000" points="0,220 30,230 50,270 50,330 30,370 0,370"/><polygon fill="#960000" points="290,510 330,500 360,540 370,582 290,582"/><polygon fill="#960000" points="0,370 50,400 100,430 150,460 200,510 260,550 280,582 0,582"/><polygon fill="#8c0096" points="0,385 50,410 100,440 150,470 165,480 170,505 210,525 250,560 270,582 0,582"/><polygon fill="#b450d2" points="0,400 50,425 100,455 150,485 160,515 200,535 240,570 250,582 0,582"/><polygon fill="#dc96dc" points="0,430 20,430 25,582 0,582"/><polygon fill="#8c0096" points="330,560 360,550 370,582 330,582"/></g></g><g clip-path="url(#ct49)"><g transform="translate(250.0 400.0) scale(0.22337)"><polygon fill="#ff0000" points="0,0 672,0 672,582 0,582"/><polygon fill="#cd0000" points="240,0 310,0 340,80 380,140 440,190 520,230 600,270 672,290 672,330 600,320 520,290 440,260 370,220 320,170 280,100 250,40"/><polygon fill="#960000" points="300,0 600,0 620,60 560,130 600,200 672,240 672,290 600,270 520,230 450,200 380,170 330,120 300,60"/><polygon fill="#ff0000" points="440,70 490,55 540,80 500,105 450,100"/><polygon fill="#cd0000" points="0,180 60,190 150,230 190,290 180,350 210,420 290,470 340,520 360,582 0,582"/><polygon fill="#960000" points="0,190 50,210 130,250 170,290 160,330 170,380 200,430 250,460 300,520 320,582 0,582"/><polygon fill="#cd0000" points="580,330 672,330 672,582 620,582 600,470 560,400"/><polygon fill="#ff0000" points="200,290 280,270 320,300 300,340 240,340"/><polygon fill="#960000" points="250,290 270,290 270,302 250,302"/><polygon fill="#ff5000" points="0,0 240,0 250,40 270,100 240,160 280,200 330,210 300,250 200,230 100,180 0,160"/><polygon fill="#ff5000" points="0,0 120,0 130,60 170,110 220,160 260,180 310,230 340,300 390,330 440,380 490,420 520,470 540,540 540,582 420,582 400,520 360,460 310,410 260,380 280,340 290,300 240,260 190,220 130,180 60,160 0,130"/><polygon fill="#f08228" points="0,0 110,0 130,50 90,100 0,110"/><polygon fill="#f08228" points="100,100 170,120 200,150 160,180 100,170"/><polygon fill="#e6af2d" points="0,20 40,10 60,60 30,90 0,80"/><polygon fill="#e6dc32" points="0,40 20,35 25,65 0,70"/><polygon fill="#f08228" points="110,150 150,140 165,180 130,190"/><polygon fill="#f08228" points="350,310 400,315 395,335 360,335"/><polygon fill="#f08228" points="430,400 520,400 560,460 570,560 500,560 430,520 410,450"/><polygon fill="#ff0000" points="170,130 195,130 195,160 170,160"/><polygon fill="#8c0096" points="290,0 672,0 672,250 610,210 550,170 540,140 590,110 620,70 600,20 480,30 380,30 320,10"/><polygon fill="#b450d2" points="310,0 672,0 672,230 620,200 560,155 600,110 630,70 610,15 480,20 380,20 330,5"/><polygon fill="#8c0096" points="0,300 30,330 60,380 120,400 150,430 130,465 200,455 240,445 270,475 290,510 300,582 0,582"/><polygon fill="#b450d2" points="0,330 30,350 55,395 115,415 140,445 120,480 200,475 235,460 260,490 275,530 280,582 0,582"/></g></g><g clip-path="url(#ct50)"><g transform="translate(120.0 120.0) scale(0.18919)"><polygon fill="#960000" points="0,0 740,0 740,529 0,529"/><polygon fill="#8c0096" points="80,529 90,470 130,430 160,370 170,330 140,290 125,200 150,130 220,85 300,50 310,0 570,0 620,20 660,60 600,110 570,120 590,260 650,350 690,405 740,370 740,529"/><polygon fill="#b450d2" points="165,529 155,430 175,385 235,370 250,330 195,300 150,250 150,200 200,160 260,140 340,100 410,70 440,25 520,25 560,45 605,45 600,95 560,120 580,260 640,345 690,398 740,362 740,529"/><polygon fill="#b450d2" points="130,455 160,450 160,500 135,500"/><polygon fill="#960000" points="560,120 600,110 660,70 680,40 740,0 740,345 690,400 640,340 590,250"/><polygon fill="#cd0000" points="640,150 740,120 740,340 700,330 660,250"/><polygon fill="#cd0000" points="620,0 740,0 740,40 680,50 640,20"/><polygon fill="#ff0000" points="700,0 740,0 740,100 710,60"/></g></g><g clip-path="url(#ct51)"><g transform="translate(430.0 290.0) scale(0.15464)"><polygon fill="#b450d2" points="0,0 647,0 647,582 0,582"/><polygon fill="#8c0096" points="0,40 50,80 100,130 180,190 240,250 300,290 380,340 450,390 540,430 620,490 647,510 647,0 0,0"/><polygon fill="#960000" points="0,0 647,0 647,500 600,470 540,420 460,370 390,330 320,290 260,260 210,200 150,160 90,120 40,80 0,50"/><polygon fill="#cd0000" points="0,0 647,0 647,480 610,450 540,400 470,350 400,310 360,260 320,240 270,200 200,150 120,110 60,60 0,30"/><polygon fill="#ff0000" points="30,0 647,0 647,460 600,420 540,380 470,330 420,270 400,200 400,100 380,40 330,20 260,50 190,100 120,80 60,40"/><polygon fill="#960000" points="200,100 260,60 330,25 380,50 360,130 350,200 320,240 270,210"/><polygon fill="#ff5000" points="50,0 300,0 250,40 160,50 100,30"/><polygon fill="#ff5000" points="400,0 647,0 647,430 620,420 560,370 500,320 460,250 440,150 420,60"/><polygon fill="#f08228" points="430,0 647,0 647,400 620,380 580,340 520,300 480,200 460,120 440,50"/><polygon fill="#ff5000" points="500,0 580,0 550,40 520,30"/><polygon fill="#ff5000" points="600,280 647,270 647,450 610,430"/><polygon fill="#e6af2d" points="540,0 647,0 647,230 590,200 560,120 550,50"/><polygon fill="#e6dc32" points="630,40 647,30 647,80 635,75"/><polygon fill="#dc96dc" points="20,450 110,420 200,400 300,390 350,380 370,450 370,582 120,582 100,520"/></g></g><g clip-path="url(#ct52)"><g transform="translate(440.0 210.0) scale(0.15464)"><polygon fill="#f08228" points="0,0 647,0 647,582 0,582"/><polygon fill="#ff5000" points="0,0 647,0 647,80 560,90 500,20 440,40 380,60 330,60 260,40 200,40 130,70 100,130 60,150 0,160"/><polygon fill="#ff0000" points="250,0 480,0 440,40 380,55 320,40"/><polygon fill="#ff0000" points="520,0 647,0 647,90 590,80 540,40"/><polygon fill="#ff5000" points="280,160 330,150 380,200 420,260 480,300 500,340 470,360 410,330 360,290 320,240 280,200"/><polygon fill="#ff5000" points="0,400 60,390 100,440 160,490 220,510 300,520 380,540 400,582 0,582"/><polygon fill="#ff0000" points="0,480 30,470 100,520 200,540 260,520 340,560 360,582 0,582"/><polygon fill="#960000" points="250,550 300,540 330,582 240,582"/><polygon fill="#e6af2d" points="170,90 220,80 270,100 260,150 210,160 170,130"/><polygon fill="#e6af2d" points="0,200 60,210 80,260 150,310 180,350 200,420 200,480 160,490 150,420 110,350 40,320 0,300"/><polygon fill="#e6af2d" points="190,280 250,240 300,250 340,290 350,340 310,360 250,350 200,330"/><polygon fill="#e6af2d" points="440,160 500,150 560,200 600,260 647,280 647,582 480,582 470,500 420,460 410,400 470,380 520,360 540,320 500,260 460,210"/><polygon fill="#e6dc32" points="270,280 300,275 305,325 285,320"/><polygon fill="#e6dc32" points="455,430 500,425 495,455 460,450"/><polygon fill="#e6dc32" points="570,540 600,540 610,582 575,582"/><polygon fill="#ff5000" points="260,400 290,400 300,440 270,440"/></g></g><g clip-path="url(#ct53)"><g transform="translate(200.0 370.0) scale(0.16216)"><polygon fill="#ff0000" points="0,0 740,0 740,432 0,432"/><polygon fill="#cd0000" points="300,0 440,0 480,60 560,110 640,150 740,200 740,330 680,290 600,240 520,200 440,160 380,100 330,40"/><polygon fill="#960000" points="360,0 450,0 520,70 600,130 680,170 740,200 740,260 650,210 560,160 480,110 410,60"/><polygon fill="#8c0096" points="440,0 740,0 740,215 690,185 620,130 540,70 470,15"/><polygon fill="#b450d2" points="460,0 740,0 740,190 700,170 630,115 550,50 490,5"/><polygon fill="#cd0000" points="0,260 100,300 200,330 290,350 330,380 360,432 0,432"/><polygon fill="#960000" points="150,360 220,350 280,390 300,432 140,432"/><polygon fill="#cd0000" points="520,360 570,350 600,400 560,420"/><polygon fill="#ff5000" points="0,0 300,0 290,60 240,90 230,130 200,140 100,110 0,110"/><polygon fill="#ff5000" points="0,110 100,130 200,170 280,130 330,100 400,110 440,180 500,230 540,280 600,330 660,380 700,432 460,432 420,380 340,340 260,320 160,290 60,260 0,250"/><polygon fill="#f08228" points="0,0 260,0 250,40 200,60 130,50 100,80 60,100 0,90"/><polygon fill="#f08228" points="0,160 60,150 120,200 200,220 270,200 320,140 370,130 410,170 440,230 480,280 480,330 420,330 350,310 280,290 200,280 120,260 50,230 0,210"/><polygon fill="#ff5000" points="90,160 200,150 230,190 200,230 120,225"/><polygon fill="#ff0000" points="120,175 180,170 210,190 170,215 130,205"/><polygon fill="#e6af2d" points="50,210 100,215 130,250 90,260 55,240"/><polygon fill="#e6af2d" points="240,240 300,200 350,150 390,160 400,220 360,290 300,300 250,280"/><polygon fill="#e6dc32" points="260,250 320,245 340,270 300,285 265,275"/><polygon fill="#f08228" points="450,380 520,380 530,432 440,432"/></g></g>
<g fill="none" stroke="#6e7876" stroke-width="2" stroke-linejoin="round" stroke-linecap="round"><g mask="url(#mt00)"><g transform="translate(120.0 50.0) scale(0.20619)"><polyline points="180,12 230,30 270,38 300,45 380,58 430,64 500,74 575,88 570,115 530,130 492,152 480,178 500,192 540,198 555,212 530,242 508,272 540,278 548,302 538,340 560,352 588,382 600,412 606,420" vector-effect="non-scaling-stroke"/><polyline points="160,510 192,470 202,442 230,430 262,442 312,420 372,405 396,376 402,356 442,356 490,386 525,372" vector-effect="non-scaling-stroke"/><polyline points="120,582 125,512 158,462 222,425 262,440" vector-effect="non-scaling-stroke"/><polyline points="515,450 530,500 545,582" vector-effect="non-scaling-stroke"/><polyline points="540,440 562,462 606,442" vector-effect="non-scaling-stroke"/></g></g><g mask="url(#mt01)"><g transform="translate(245.0 50.0) scale(0.20619)"><polyline points="0,85 50,95 90,100 120,115 210,122 250,105 300,70 320,48 370,40 470,32 530,22 580,12 606,8" vector-effect="non-scaling-stroke"/><polyline points="606,180 540,190 525,215 550,250 555,300 510,330 450,360 430,380 450,400 435,440 400,470 360,460 330,450 290,460 270,440 230,395 210,420 180,450 100,455 50,462 0,470" vector-effect="non-scaling-stroke"/><polyline points="0,360 20,380 25,400 10,420 0,420" vector-effect="non-scaling-stroke"/><polyline points="130,582 150,510 175,505 210,530 240,575" vector-effect="non-scaling-stroke"/><polyline points="606,545 580,560 560,582" vector-effect="non-scaling-stroke"/></g></g><g mask="url(#mt02)"><g transform="translate(370.0 50.0) scale(0.20619)"><polyline points="140,12 165,50 190,90 210,100 250,115 280,140 295,170 320,188 370,210 400,240 410,270 430,295 480,292 520,320 540,340 580,348 606,348" vector-effect="non-scaling-stroke"/><polyline points="190,88 150,80 110,85 105,110 100,125 60,130 50,150 20,170 0,180" vector-effect="non-scaling-stroke"/><polyline points="180,550 240,556 290,542 310,535 340,555 400,570 440,582" vector-effect="non-scaling-stroke"/><polyline points="0,548 35,550 60,575" vector-effect="non-scaling-stroke"/></g></g><g mask="url(#mt03)"><g transform="translate(495.0 50.0) scale(0.20619)"><polyline points="0,345 80,350 120,362 150,358 180,335 240,305 290,290 330,265 350,270 400,262 440,240 470,215 530,215 590,212" vector-effect="non-scaling-stroke"/><polyline points="250,310 290,340 300,380 285,395 275,425 300,445 320,445 335,450 310,460 300,490 320,520 360,535 400,540 430,555 410,570 370,560 350,582" vector-effect="non-scaling-stroke"/></g></g><g mask="url(#mt10)"><g transform="translate(120.0 170.0) scale(0.20619)"><polyline points="160,0 175,25 200,40 235,55 225,80 205,85 200,100 185,110 160,105 150,130 145,165 155,200 160,250 180,310 200,340 240,370 270,400 300,410 330,420 380,455 440,500 500,535 540,560 560,582" vector-effect="non-scaling-stroke"/><polyline points="195,425 210,410 225,415 220,435 205,440 195,425" vector-effect="non-scaling-stroke"/><polyline points="535,0 570,30 590,50 606,80" vector-effect="non-scaling-stroke"/></g></g><g mask="url(#mt11)"><g transform="translate(245.0 170.0) scale(0.20619)"><polyline points="0,90 30,125 60,100 100,60 120,40 130,0" vector-effect="non-scaling-stroke"/><polyline points="150,0 165,40 185,60 180,80 150,90 150,150 160,190 195,225 210,235" vector-effect="non-scaling-stroke"/><polyline points="180,100 200,130 210,180 200,190 175,180" vector-effect="non-scaling-stroke"/><polyline points="180,0 190,30 230,50 270,65 300,60 310,40 290,20 280,0" vector-effect="non-scaling-stroke"/><polyline points="265,155 320,195 350,215 380,250 400,280 430,300 420,315 390,315 385,320 410,350 450,400 490,440 540,480 580,500 606,505" vector-effect="non-scaling-stroke"/><polyline points="430,292 470,302 500,310" vector-effect="non-scaling-stroke"/><polyline points="305,0 320,40 320,80 330,140 345,190 350,210" vector-effect="non-scaling-stroke"/><polyline points="300,345 340,375 380,420 405,445 390,452 370,435 335,395 300,345" vector-effect="non-scaling-stroke"/><polyline points="570,0 575,60 570,100 580,120 606,140" vector-effect="non-scaling-stroke"/></g></g><g mask="url(#mt12)"><g transform="translate(370.0 170.0) scale(0.20619)"><polyline points="60,0 90,30 120,50 140,40 150,20 170,0" vector-effect="non-scaling-stroke"/><polyline points="440,0 480,10 540,15 580,20 606,15" vector-effect="non-scaling-stroke"/><polyline points="0,150 30,160 50,190 80,240 90,290 80,325 120,340 150,370 180,400 210,410 240,440 260,480 290,520 330,560 350,582" vector-effect="non-scaling-stroke"/><polyline points="80,582 110,570 150,575" vector-effect="non-scaling-stroke"/><polyline points="0,510 20,530 30,580" vector-effect="non-scaling-stroke"/></g></g><g mask="url(#mt13)"><g transform="translate(495.0 170.0) scale(0.20619)"><polyline points="0,15 60,15 100,10 200,20 240,40 250,80 300,100 330,80 410,90 410,120 390,170 350,220 340,280 360,310 420,340 460,370 490,390 470,410 420,420 380,400 390,430 420,460 450,480 460,510 450,550 380,560 340,570 300,582" vector-effect="non-scaling-stroke"/><polyline points="300,100 320,60 340,30 345,0" vector-effect="non-scaling-stroke"/></g></g><g mask="url(#mt20)"><g transform="translate(120.0 290.0) scale(0.20619)"><polyline points="0,490 30,520 70,550 110,575 130,582" vector-effect="non-scaling-stroke"/><polyline points="555,0 580,40 606,70" vector-effect="non-scaling-stroke"/></g></g><g mask="url(#mt21)"><g transform="translate(245.0 290.0) scale(0.20619)"><polyline points="0,120 20,150 40,240 60,290 100,340 150,390 200,430 250,470 270,500 300,520 340,540 370,560 430,570 500,570 560,565 606,565" vector-effect="non-scaling-stroke"/></g></g><g mask="url(#mt22)"><g transform="translate(370.0 290.0) scale(0.20619)"><polyline points="170,0 210,10 260,30 300,50 320,70 350,100 380,120 420,150 460,180 500,200 540,215 580,240 606,260" vector-effect="non-scaling-stroke"/><polyline points="360,0 400,10 420,40 440,80 480,110 510,130 530,160 530,190 510,200" vector-effect="non-scaling-stroke"/><polyline points="155,45 210,40 280,55 300,75 280,90 220,85 160,70 155,45" vector-effect="non-scaling-stroke"/><polyline points="145,105 200,100 280,120 360,130 340,145 250,140 170,130 145,105" vector-effect="non-scaling-stroke"/><polyline points="215,185 270,185 340,195 380,200 360,215 300,215 240,210 215,185" vector-effect="non-scaling-stroke"/><polyline points="330,165 360,165 420,190 450,210" vector-effect="non-scaling-stroke"/><polyline points="45,155 80,148 105,160 95,178 55,180 45,155" vector-effect="non-scaling-stroke"/><polyline points="420,255 450,250 510,270 545,292 500,285 430,275 420,255" vector-effect="non-scaling-stroke"/><polyline points="40,0 60,5 90,0" vector-effect="non-scaling-stroke"/><polyline points="0,550 40,555 80,580" vector-effect="non-scaling-stroke"/></g></g><g mask="url(#mt23)"><g transform="translate(495.0 290.0) scale(0.20619)"><polyline points="0,270 60,300 120,320 145,345 150,380 190,390 215,380 210,400 180,400 230,420 260,440 300,480 330,510 350,540 380,570 400,582" vector-effect="non-scaling-stroke"/><polyline points="290,0 320,30 330,80 310,90 300,60 280,50 250,60 220,90 210,130 200,170 160,180 150,220 150,260 180,290 160,320 145,345" vector-effect="non-scaling-stroke"/><polyline points="370,0 400,30 470,80 520,120 580,140 606,150" vector-effect="non-scaling-stroke"/><polyline points="606,320 560,330 540,310 520,300 490,320 470,370 440,410 410,450 400,470 410,500 400,540 405,582" vector-effect="non-scaling-stroke"/></g></g><g mask="url(#mt30)"><g transform="translate(120.0 410.0) scale(0.20619)"><polyline points="120,0 140,30 180,70 220,100 260,140 300,160 340,180 370,210 400,225 440,210 480,215 530,225 570,220 606,240" vector-effect="non-scaling-stroke"/></g></g><g mask="url(#mt31)"><g transform="translate(245.0 410.0) scale(0.20619)"><polyline points="60,330 90,370 130,375 160,390 190,410 165,440 200,445 250,430 280,430 310,450 330,480 345,520 350,560" vector-effect="non-scaling-stroke"/></g></g><g mask="url(#mt32)"><g transform="translate(370.0 410.0) scale(0.20619)"><polyline points="80,0 90,30 60,60 10,90 10,120 40,160 100,180 160,210 210,240 270,260 330,280 380,300 420,320 460,360 500,390 560,410 606,430" vector-effect="non-scaling-stroke"/><polyline points="250,582 270,520 310,490 350,485 400,490 420,500 390,510 410,530 450,550 500,565 560,575 606,580" vector-effect="non-scaling-stroke"/></g></g><g mask="url(#mt33)"><g transform="translate(495.0 410.0) scale(0.20619)"><polyline points="400,0 440,10 480,20 485,60 470,100 450,140 440,200 450,250 440,290 445,320 460,340 430,360 420,400 400,440 430,470 440,510 430,545 410,520 395,520 410,550 440,582" vector-effect="non-scaling-stroke"/><polyline points="0,430 20,440 40,480 80,510 120,550 145,582" vector-effect="non-scaling-stroke"/></g></g><g mask="url(#mt40)"><g transform="translate(120.0 280.0) scale(0.42955)"><polyline points="250,0 265,20 280,60 300,110 320,160 350,195 400,235 440,265 490,290 540,295 582,290" vector-effect="non-scaling-stroke"/><polyline points="0,258 40,283 80,330 130,370 180,395 220,405 250,400 280,402 300,412 320,432" vector-effect="non-scaling-stroke"/><polyline points="370,515 410,510 440,530 470,560 490,582" vector-effect="non-scaling-stroke"/></g></g><g mask="url(#mt41)"><g transform="translate(230.0 360.0) scale(0.24055)"><polyline points="140,0 200,50 280,110 350,170 400,190 500,190 582,185" vector-effect="non-scaling-stroke"/><polyline points="0,400 40,395 70,420 110,440 120,500 170,520 220,545 260,582" vector-effect="non-scaling-stroke"/></g></g><g mask="url(#mt42)"><g transform="translate(150.0 280.0) scale(0.20619)"><polyline points="330,0 400,30 440,110 470,200 485,240" vector-effect="non-scaling-stroke"/></g></g><g mask="url(#mt43)"><g transform="translate(240.0 110.0) scale(0.20619)"><polyline points="0,175 80,170 150,165 200,160 250,100 280,130 320,175 350,160 380,160 420,185 450,170 460,120 470,90 485,60" vector-effect="non-scaling-stroke"/><polyline points="0,60 20,70 40,90 40,120 20,130 0,140" vector-effect="non-scaling-stroke"/><polyline points="0,340 30,390 55,410 80,390 100,360 130,320 150,280 160,230 180,215 220,225 260,255 290,285 330,330 345,370 350,410 370,460 400,500 440,545 485,575" vector-effect="non-scaling-stroke"/><polyline points="175,280 190,275 200,330 195,380 210,430 225,480 240,520 220,525 200,480 185,420 175,370 170,320 175,280" vector-effect="non-scaling-stroke"/><polyline points="210,245 240,240 270,270 310,310 320,345 290,355 250,330 220,300 210,245" vector-effect="non-scaling-stroke"/><polyline points="290,440 340,480 380,520 430,560 460,582" vector-effect="non-scaling-stroke"/></g></g><g mask="url(#mt44)"><g transform="translate(120.0 370.0) scale(0.17182)"><polyline points="0,130 40,165 90,180 130,220 170,270 230,320 300,380 350,415 420,440 450,490 480,500 530,485 560,480 620,500 698,500" vector-effect="non-scaling-stroke"/></g></g><g mask="url(#mt45)"><g transform="translate(120.0 50.0) scale(0.17568)"><polyline points="210,10 270,40 330,50 380,60 440,70 520,80 620,95 680,100 670,120 610,150 570,180 560,210 600,230 650,240 620,280 600,320 650,330 640,380 650,410 700,440 740,470" vector-effect="non-scaling-stroke"/><polyline points="330,512 380,480 460,450 470,420 540,420 600,440 640,460" vector-effect="non-scaling-stroke"/></g></g><g mask="url(#mt46)"><g transform="translate(300.0 160.0) scale(0.24055)"><polyline points="0,35 30,50 45,100 50,150 70,220 100,262 135,290 195,302 130,310 105,330 150,380 200,410 260,450 300,490 320,540 350,548 420,520 499,560" vector-effect="non-scaling-stroke"/><polyline points="0,170 40,210 80,250 130,290 190,302" vector-effect="non-scaling-stroke"/><polyline points="0,70 20,75 25,90 5,100" vector-effect="non-scaling-stroke"/><polyline points="290,0 265,20 260,80 250,130 290,160 320,180 340,220 360,260 365,320 390,340 420,360 460,390 499,440" vector-effect="non-scaling-stroke"/><polyline points="330,0 360,40 400,80 440,40 499,20" vector-effect="non-scaling-stroke"/><polyline points="30,335 70,370 100,400 125,420 110,430 80,400 30,345" vector-effect="non-scaling-stroke"/></g></g><g mask="url(#mt47)"><g transform="translate(370.0 160.0) scale(0.24055)"><polyline points="0,170 30,175 55,220 75,270 70,325 110,335 160,380 200,410 240,460 280,510 320,540 345,560 350,582" vector-effect="non-scaling-stroke"/><polyline points="0,20 40,30 70,60 110,80 150,30 200,15 260,10 300,25 340,30 400,45 460,50 500,60 560,50 624,45" vector-effect="non-scaling-stroke"/><polyline points="0,480 20,520 50,545 100,535 150,530 200,550 230,582" vector-effect="non-scaling-stroke"/></g></g><g mask="url(#mt48)"><g transform="translate(480.0 230.0) scale(0.27491)"><polyline points="0,375 50,400 100,430 150,460 165,470 165,500 200,510 225,520 240,540 260,560 280,582" vector-effect="non-scaling-stroke"/><polyline points="320,0 360,30 410,60 420,80 380,95 345,85 360,110 390,140 395,180 370,200 330,205 290,210 275,225 290,245 300,280 285,290 270,260 240,265 210,300 200,340 175,360 165,400 175,430 185,440 165,470" vector-effect="non-scaling-stroke"/><polyline points="330,210 380,250 430,290 480,320 509,330" vector-effect="non-scaling-stroke"/><polyline points="509,480 470,470 440,450 420,470 390,520 360,560 350,582" vector-effect="non-scaling-stroke"/></g></g><g mask="url(#mt49)"><g transform="translate(250.0 400.0) scale(0.22337)"><polyline points="300,0 330,15 400,30 480,25 600,15 625,60 590,110 550,130 545,170 600,200 672,240" vector-effect="non-scaling-stroke"/><polyline points="30,330 60,385 120,400 150,430 130,460 200,450 240,440 270,470 290,510 300,582" vector-effect="non-scaling-stroke"/></g></g><g mask="url(#mt50)"><g transform="translate(120.0 120.0) scale(0.18919)"><polyline points="180,185 215,140 260,100 235,95 200,110 150,140 130,200 150,280 200,300 255,325 235,360 215,355 210,385 170,385 160,440 165,529" vector-effect="non-scaling-stroke"/><polyline points="240,120 330,80 400,60 430,50 440,20 500,20 540,40 530,50 570,20 610,10 650,40 690,70 660,100 620,130 640,140 740,140" vector-effect="non-scaling-stroke"/><polyline points="560,120 590,250 640,335 690,405 720,380 740,350" vector-effect="non-scaling-stroke"/></g></g><g mask="url(#mt51)"><g transform="translate(430.0 290.0) scale(0.15464)"><polyline points="0,50 50,80 120,130 210,190 240,240 270,270" vector-effect="non-scaling-stroke"/><polyline points="90,0 150,30 160,70 180,110 260,170 310,210 310,250 280,270" vector-effect="non-scaling-stroke"/><polyline points="0,265 60,250 130,240 200,260 250,280 300,290 360,290 400,340 470,370 550,410 600,440 640,490" vector-effect="non-scaling-stroke"/><polyline points="0,180 90,180 90,190 0,195" vector-effect="non-scaling-stroke"/><polyline points="175,340 200,330 260,350 330,370 340,390 270,380 190,360 175,340" vector-effect="non-scaling-stroke"/><polyline points="0,220 60,225 120,250" vector-effect="non-scaling-stroke"/><polyline points="647,230 620,270 610,320 640,360 647,380" vector-effect="non-scaling-stroke"/></g></g><g mask="url(#mt52)"><g transform="translate(440.0 210.0) scale(0.15464)"><polyline points="0,490 40,510 90,550 95,582" vector-effect="non-scaling-stroke"/></g></g><g mask="url(#mt53)"><g transform="translate(200.0 370.0) scale(0.16216)"><polyline points="445,0 520,60 580,100 610,130 640,160 700,185 740,210" vector-effect="non-scaling-stroke"/></g></g></g>
<g stroke="#6e7876" stroke-width="1" stroke-dasharray="2 4"><line x1="136.5" y1="51" x2="136.5" y2="529.5"/><line x1="196.5" y1="51" x2="196.5" y2="529.5"/><line x1="256.5" y1="51" x2="256.5" y2="529.5"/><line x1="317.5" y1="51" x2="317.5" y2="529.5"/><line x1="377.5" y1="51" x2="377.5" y2="529.5"/><line x1="437.5" y1="51" x2="437.5" y2="529.5"/><line x1="498.5" y1="51" x2="498.5" y2="529.5"/><line x1="558.5" y1="51" x2="558.5" y2="529.5"/><line x1="618.5" y1="51" x2="618.5" y2="529.5"/><line x1="120" y1="475.5" x2="619" y2="475.5"/><line x1="120" y1="401.5" x2="619" y2="401.5"/><line x1="120" y1="328.5" x2="619" y2="328.5"/><line x1="120" y1="254.5" x2="619" y2="254.5"/><line x1="120" y1="180.5" x2="619" y2="180.5"/><line x1="120" y1="106.5" x2="619" y2="106.5"/></g>
<g stroke="#000" stroke-width="1"><line x1="136.5" y1="529.5" x2="136.5" y2="533.3"/><line x1="196.5" y1="529.5" x2="196.5" y2="533.3"/><line x1="256.5" y1="529.5" x2="256.5" y2="533.3"/><line x1="317.5" y1="529.5" x2="317.5" y2="533.3"/><line x1="377.5" y1="529.5" x2="377.5" y2="533.3"/><line x1="437.5" y1="529.5" x2="437.5" y2="533.3"/><line x1="498.5" y1="529.5" x2="498.5" y2="533.3"/><line x1="558.5" y1="529.5" x2="558.5" y2="533.3"/><line x1="618.5" y1="529.5" x2="618.5" y2="533.3"/><line x1="116.8" y1="475.5" x2="120" y2="475.5"/><line x1="116.8" y1="401.5" x2="120" y2="401.5"/><line x1="116.8" y1="328.5" x2="120" y2="328.5"/><line x1="116.8" y1="254.5" x2="120" y2="254.5"/><line x1="116.8" y1="180.5" x2="120" y2="180.5"/><line x1="116.8" y1="106.5" x2="120" y2="106.5"/></g>
<rect x="120" y="51.2" width="498.75" height="478.4" fill="none" stroke="#000" stroke-width="2"/>
<rect x="120.5" y="465.5" width="135" height="63.5" fill="#fff" stroke="#000" stroke-width="1"/>
<rect x="516.5" y="51.5" width="102" height="41" fill="#fff" stroke="#000" stroke-width="1"/>
<rect x="652" y="77.00" width="15" height="18.63" fill="#ffecdc"/><rect x="652" y="95.61" width="15" height="18.63" fill="#d2bcd6"/><rect x="652" y="114.22" width="15" height="18.63" fill="#dc96dc"/><rect x="652" y="132.83" width="15" height="18.63" fill="#b450d2"/><rect x="652" y="151.44" width="15" height="18.63" fill="#8c0096"/><rect x="652" y="170.05" width="15" height="18.63" fill="#960000"/><rect x="652" y="188.66" width="15" height="18.63" fill="#cd0000"/><rect x="652" y="207.27" width="15" height="18.63" fill="#ff0000"/><rect x="652" y="225.88" width="15" height="18.63" fill="#ff5000"/><rect x="652" y="244.49" width="15" height="18.63" fill="#f08228"/><rect x="652" y="263.10" width="15" height="18.63" fill="#e6af2d"/><rect x="652" y="281.71" width="15" height="18.63" fill="#e6dc32"/><rect x="652" y="300.32" width="15" height="18.63" fill="#f2e85c"/><rect x="652" y="318.93" width="15" height="18.63" fill="#e6f0a0"/><rect x="652" y="337.54" width="15" height="18.63" fill="#a0e632"/><rect x="652" y="356.15" width="15" height="18.63" fill="#00dc00"/><rect x="652" y="374.76" width="15" height="18.63" fill="#00a000"/><rect x="652" y="393.37" width="15" height="18.63" fill="#007800"/><rect x="652" y="411.98" width="15" height="18.63" fill="#1e3cff"/><rect x="652" y="430.59" width="15" height="18.63" fill="#00a0e6"/><rect x="652" y="449.20" width="15" height="18.63" fill="#a0d2dc"/><rect x="652" y="467.81" width="15" height="18.63" fill="#e6ffff"/>
<text x="169.5" y="39.8" font-size="15.4" text-anchor="start" fill="#000" textLength="398" lengthAdjust="spacing">Temperatura zraka na 2m u 00 UTC 13JUN2011</text><text x="136.5" y="543.9" font-size="10.2" text-anchor="middle" fill="#000" textLength="17" lengthAdjust="spacing">12E</text><text x="196.5" y="543.9" font-size="10.2" text-anchor="middle" fill="#000" textLength="17" lengthAdjust="spacing">13E</text><text x="256.5" y="543.9" font-size="10.2" text-anchor="middle" fill="#000" textLength="17" lengthAdjust="spacing">14E</text><text x="317.5" y="543.9" font-size="10.2" text-anchor="middle" fill="#000" textLength="17" lengthAdjust="spacing">15E</text><text x="377.5" y="543.9" font-size="10.2" text-anchor="middle" fill="#000" textLength="17" lengthAdjust="spacing">16E</text><text x="437.5" y="543.9" font-size="10.2" text-anchor="middle" fill="#000" textLength="17" lengthAdjust="spacing">17E</text><text x="498.5" y="543.9" font-size="10.2" text-anchor="middle" fill="#000" textLength="17" lengthAdjust="spacing">18E</text><text x="558.5" y="543.9" font-size="10.2" text-anchor="middle" fill="#000" textLength="17" lengthAdjust="spacing">19E</text><text x="618.5" y="543.9" font-size="10.2" text-anchor="middle" fill="#000" textLength="17" lengthAdjust="spacing">20E</text><text x="114.5" y="479.1" font-size="10.2" text-anchor="end" fill="#000" textLength="17.5" lengthAdjust="spacing">41N</text><text x="114.5" y="405.1" font-size="10.2" text-anchor="end" fill="#000" textLength="17.5" lengthAdjust="spacing">42N</text><text x="114.5" y="332.1" font-size="10.2" text-anchor="end" fill="#000" textLength="17.5" lengthAdjust="spacing">43N</text><text x="114.5" y="258.1" font-size="10.2" text-anchor="end" fill="#000" textLength="17.5" lengthAdjust="spacing">44N</text><text x="114.5" y="184.1" font-size="10.2" text-anchor="end" fill="#000" textLength="17.5" lengthAdjust="spacing">45N</text><text x="114.5" y="110.1" font-size="10.2" text-anchor="end" fill="#000" textLength="17.5" lengthAdjust="spacing">46N</text><text x="669.6" y="81.3" font-size="12.3" text-anchor="start" fill="#000" textLength="15.5" lengthAdjust="spacing">29</text><text x="669.6" y="99.9" font-size="12.3" text-anchor="start" fill="#000" textLength="15.5" lengthAdjust="spacing">27</text><text x="669.6" y="118.5" font-size="12.3" text-anchor="start" fill="#000" textLength="15.5" lengthAdjust="spacing">25</text><text x="669.6" y="137.1" font-size="12.3" text-anchor="start" fill="#000" textLength="15.5" lengthAdjust="spacing">23</text><text x="669.6" y="155.7" font-size="12.3" text-anchor="start" fill="#000" textLength="15.5" lengthAdjust="spacing">21</text><text x="669.6" y="174.4" font-size="12.3" text-anchor="start" fill="#000" textLength="15.5" lengthAdjust="spacing">19</text><text x="669.6" y="193.0" font-size="12.3" text-anchor="start" fill="#000" textLength="15.5" lengthAdjust="spacing">17</text><text x="669.6" y="211.6" font-size="12.3" text-anchor="start" fill="#000" textLength="15.5" lengthAdjust="spacing">15</text><text x="669.6" y="230.2" font-size="12.3" text-anchor="start" fill="#000" textLength="15.5" lengthAdjust="spacing">13</text><text x="669.6" y="248.8" font-size="12.3" text-anchor="start" fill="#000" textLength="15.5" lengthAdjust="spacing">11</text><text x="669.6" y="267.4" font-size="12.3" text-anchor="start" fill="#000" textLength="7.5" lengthAdjust="spacing">9</text><text x="669.6" y="286.0" font-size="12.3" text-anchor="start" fill="#000" textLength="7.5" lengthAdjust="spacing">7</text><text x="669.6" y="304.6" font-size="12.3" text-anchor="start" fill="#000" textLength="7.5" lengthAdjust="spacing">5</text><text x="669.6" y="323.2" font-size="12.3" text-anchor="start" fill="#000" textLength="7.5" lengthAdjust="spacing">3</text><text x="669.6" y="341.8" font-size="12.3" text-anchor="start" fill="#000" textLength="7.5" lengthAdjust="spacing">1</text><text x="669.6" y="360.4" font-size="12.3" text-anchor="start" fill="#000" textLength="16.5" lengthAdjust="spacing">&#8722;1</text><text x="669.6" y="379.1" font-size="12.3" text-anchor="start" fill="#000" textLength="16.5" lengthAdjust="spacing">&#8722;3</text><text x="669.6" y="397.7" font-size="12.3" text-anchor="start" fill="#000" textLength="16.5" lengthAdjust="spacing">&#8722;5</text><text x="669.6" y="416.3" font-size="12.3" text-anchor="start" fill="#000" textLength="16.5" lengthAdjust="spacing">&#8722;7</text><text x="669.6" y="434.9" font-size="12.3" text-anchor="start" fill="#000" textLength="16.5" lengthAdjust="spacing">&#8722;9</text><text x="669.6" y="453.5" font-size="12.3" text-anchor="start" fill="#000" textLength="26" lengthAdjust="spacing">&#8722;11</text><text x="669.6" y="472.1" font-size="12.3" text-anchor="start" fill="#000" textLength="26" lengthAdjust="spacing">&#8722;13</text><text x="669.6" y="490.7" font-size="12.3" text-anchor="start" fill="#000" textLength="26" lengthAdjust="spacing">&#8722;15</text><text x="669.6" y="509.3" font-size="12.3" text-anchor="start" fill="#000" textLength="26" lengthAdjust="spacing">&#8722;17</text><text x="663.6" y="529" font-size="11" text-anchor="start" fill="#000" textLength="43" lengthAdjust="spacing">(st. C)</text><text x="249" y="483" font-size="10.3" text-anchor="end" fill="#000" textLength="100.4" lengthAdjust="spacing">Temperatura zraka</text><text x="256" y="496.8" font-size="10.3" text-anchor="end" fill="#000" textLength="84" lengthAdjust="spacing">na 2m (st. C)</text><text x="249" y="510.6" font-size="10.3" text-anchor="end" fill="#000" textLength="106" lengthAdjust="spacing">start 00z12jun2011</text><text x="249" y="524.3" font-size="10.3" text-anchor="end" fill="#000" textLength="120" lengthAdjust="spacing">termin 00Z13JUN2011</text><text x="548" y="78.4" font-size="20.5" text-anchor="start" fill="#1e3cff" textLength="57.5" lengthAdjust="spacing">DHMZ</text><circle cx="536.9" cy="71.7" r="6.6" fill="none" stroke="#1e3cff" stroke-width="1.3"/><text x="536.9" y="75.6" font-size="11.5" text-anchor="middle" fill="#1e3cff" font-weight="bold">c</text>
</svg>
</body></html>
